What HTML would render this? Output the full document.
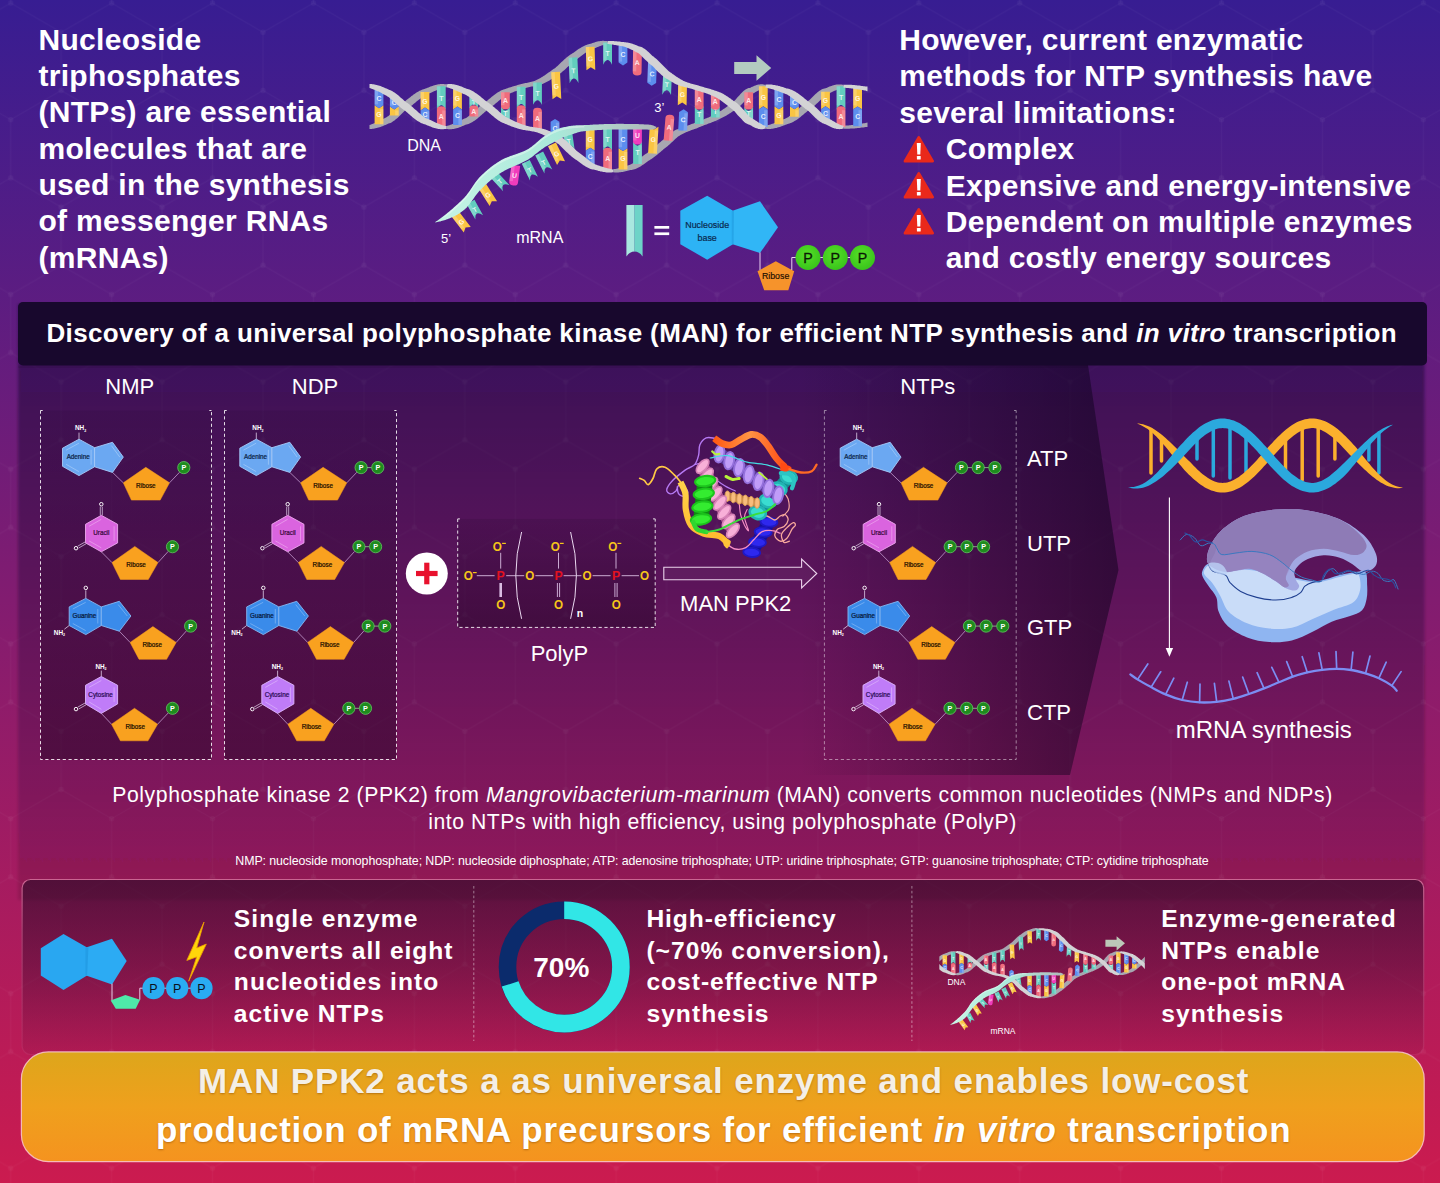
<!DOCTYPE html>
<html lang="en"><head><meta charset="utf-8"><title>MAN PPK2 graphical abstract</title>
<style>
html,body{margin:0;padding:0}
body{width:1440px;height:1183px;position:relative;overflow:hidden;
 font-family:"Liberation Sans",sans-serif;color:#fff;
 background:linear-gradient(180deg,#371D92 0%,#CB1B4F 100%);}
.t{position:absolute;white-space:nowrap;margin:0}
.b{font-weight:bold}
.c{text-align:center}
svg{position:absolute;left:0;top:0;overflow:visible}
svg text{font-family:"Liberation Sans",sans-serif}
</style></head><body>
<svg width="1440" height="1183" viewBox="0 0 1440 1183">
<defs><linearGradient id="gMint" x1="435" y1="0" x2="657" y2="0" gradientUnits="userSpaceOnUse"><stop offset="0" stop-color="#C6F4E6"/><stop offset=".55" stop-color="#A9E9D9"/><stop offset=".72" stop-color="#B2D8CE"/><stop offset="1" stop-color="#AEB8B8"/></linearGradient><clipPath id="cSmall"><rect x="414.3" y="20" width="400.6" height="230"/></clipPath><g id="dnaArt">
<polygon points="446.5,126.0 447.5,125.7 448.5,125.5 449.5,125.2 450.5,124.8 451.5,124.5 452.5,124.1 453.5,123.7 454.5,123.2 455.5,122.8 456.5,122.3 457.5,121.9 458.5,121.4 459.5,120.9 460.5,120.5 461.5,120.0 462.5,119.5 463.5,119.1 464.5,118.6 465.5,118.2 466.5,117.7 467.5,116.9 468.5,116.2 469.5,115.4 470.5,114.5 471.5,113.7 472.5,112.8 473.5,111.9 474.5,111.0 475.5,110.1 476.5,109.2 477.5,108.3 478.5,107.4 479.5,106.6 480.5,105.7 481.5,104.9 482.5,104.1 483.5,103.4 484.5,102.6 485.5,102.0 486.5,101.3 487.5,100.5 488.5,99.6 489.5,98.8 490.5,98.0 491.5,97.1 492.5,96.3 493.5,95.5 494.5,94.7 495.5,94.0 496.5,93.3 497.5,92.6 498.5,92.0 499.5,91.4 500.5,90.8 501.5,90.3 502.5,89.9 503.5,89.5 504.5,89.2 505.5,88.9 506.5,88.5 507.5,88.2 508.5,87.8 509.5,87.5 510.5,87.2 511.5,86.9 512.5,86.6 513.5,86.3 514.5,86.0 515.5,85.7 516.5,85.4 517.5,85.1 518.5,84.8 519.5,84.6 520.5,84.3 521.5,84.0 522.5,83.7 523.5,83.4 524.5,83.3 525.5,83.1 526.5,82.9 527.5,82.7 528.5,82.5 529.5,82.3 530.5,82.0 531.5,81.8 532.5,81.5 533.5,81.2 534.5,80.9 535.5,80.5 536.5,80.1 537.5,79.6 538.5,79.1 539.5,78.5 540.5,77.9 541.5,77.3 542.5,76.7 543.5,76.0 544.5,75.4 545.5,74.7 546.5,74.0 547.5,73.3 548.5,72.6 549.5,71.9 550.5,71.2 551.5,70.5 552.5,69.8 553.5,69.1 554.5,68.4 555.5,67.7 556.5,66.8 557.5,65.9 558.5,65.0 559.5,64.0 560.5,63.1 561.5,62.1 562.5,61.2 563.5,60.3 564.5,59.3 565.5,58.5 566.5,57.6 567.5,56.8 568.5,56.0 569.5,55.2 570.5,54.5 571.5,53.9 572.5,53.3 573.5,52.7 574.5,51.9 575.5,51.2 576.5,50.5 577.5,49.8 578.5,49.1 579.5,48.5 580.5,47.9 581.5,47.3 582.5,46.7 583.5,46.2 584.5,45.7 585.5,45.3 586.5,44.9 587.5,44.6 588.5,44.3 589.5,44.1 590.5,43.8 591.5,43.5 592.5,43.1 593.5,42.7 594.5,42.4 595.5,42.1 596.5,41.8 597.5,41.6 598.5,41.3 599.5,41.2 600.5,41.0 601.5,40.9 602.5,40.8 603.5,40.8 604.5,40.9 605.5,41.0 606.5,41.1 607.5,41.2 607.5,44.0 606.5,44.1 605.5,44.3 604.5,44.6 603.5,44.9 602.5,45.2 601.5,45.6 600.5,45.9 599.5,46.3 598.5,46.7 597.5,47.1 596.5,47.5 595.5,47.9 594.5,48.3 593.5,48.7 592.5,49.1 591.5,49.4 590.5,49.8 589.5,50.3 588.5,50.9 587.5,51.5 586.5,52.2 585.5,52.8 584.5,53.6 583.5,54.3 582.5,55.0 581.5,55.7 580.5,56.5 579.5,57.2 578.5,58.0 577.5,58.7 576.5,59.5 575.5,60.2 574.5,60.9 573.5,61.6 572.5,62.4 571.5,63.3 570.5,64.3 569.5,65.2 568.5,66.2 567.5,67.1 566.5,68.1 565.5,69.0 564.5,69.9 563.5,70.8 562.5,71.6 561.5,72.5 560.5,73.3 559.5,74.0 558.5,74.7 557.5,75.3 556.5,75.9 555.5,76.4 554.5,77.1 553.5,77.8 552.5,78.5 551.5,79.1 550.5,79.7 549.5,80.4 548.5,81.0 547.5,81.5 546.5,82.1 545.5,82.6 544.5,83.1 543.5,83.5 542.5,83.9 541.5,84.3 540.5,84.7 539.5,84.9 538.5,85.2 537.5,85.4 536.5,85.6 535.5,85.8 534.5,86.0 533.5,86.2 532.5,86.4 531.5,86.6 530.5,86.8 529.5,87.0 528.5,87.2 527.5,87.4 526.5,87.7 525.5,88.0 524.5,88.3 523.5,88.7 522.5,89.0 521.5,89.3 520.5,89.6 519.5,89.9 518.5,90.2 517.5,90.6 516.5,90.9 515.5,91.2 514.5,91.6 513.5,92.0 512.5,92.4 511.5,92.8 510.5,93.2 509.5,93.6 508.5,94.1 507.5,94.6 506.5,95.1 505.5,95.6 504.5,96.3 503.5,97.0 502.5,97.8 501.5,98.6 500.5,99.4 499.5,100.2 498.5,101.0 497.5,101.9 496.5,102.7 495.5,103.6 494.5,104.4 493.5,105.3 492.5,106.1 491.5,106.9 490.5,107.7 489.5,108.4 488.5,109.2 487.5,109.9 486.5,110.5 485.5,111.4 484.5,112.3 483.5,113.2 482.5,114.1 481.5,115.0 480.5,115.8 479.5,116.7 478.5,117.6 477.5,118.4 476.5,119.2 475.5,119.9 474.5,120.7 473.5,121.3 472.5,122.0 471.5,122.5 470.5,123.1 469.5,123.5 468.5,123.9 467.5,124.2 466.5,124.4 465.5,124.8 464.5,125.3 463.5,125.7 462.5,126.1 461.5,126.6 460.5,127.0 459.5,127.3 458.5,127.7 457.5,128.0 456.5,128.3 455.5,128.6 454.5,128.8 453.5,129.0 452.5,129.1 451.5,129.2 450.5,129.3 449.5,129.3 448.5,129.2 447.5,129.1 446.5,129.0" fill="#A7A7B1"/>
<polygon points="765.5,125.7 766.5,125.5 767.5,125.3 768.5,125.0 769.5,124.7 770.5,124.4 771.5,124.1 772.5,123.8 773.5,123.4 774.5,123.0 775.5,122.6 776.5,122.2 777.5,121.8 778.5,121.4 779.5,121.0 780.5,120.6 781.5,120.1 782.5,119.7 783.5,119.3 784.5,118.9 785.5,118.5 786.5,118.1 787.5,117.5 788.5,116.9 789.5,116.1 790.5,115.4 791.5,114.6 792.5,113.8 793.5,113.0 794.5,112.2 795.5,111.4 796.5,110.5 797.5,109.7 798.5,108.8 799.5,108.0 800.5,107.1 801.5,106.3 802.5,105.5 803.5,104.7 804.5,103.9 805.5,103.1 806.5,102.4 807.5,101.7 808.5,100.8 809.5,99.9 810.5,98.9 811.5,97.9 812.5,96.9 813.5,95.9 814.5,95.0 815.5,94.1 816.5,93.2 817.5,92.3 818.5,91.6 819.5,90.8 820.5,90.2 821.5,89.6 822.5,89.1 823.5,88.7 824.5,88.4 825.5,88.2 826.5,87.9 827.5,87.5 828.5,87.0 829.5,86.6 830.5,86.2 831.5,85.9 832.5,85.5 833.5,85.2 834.5,85.0 835.5,84.7 836.5,84.6 837.5,84.4 838.5,84.4 839.5,84.4 840.5,84.4 841.5,84.5 842.5,84.7 843.5,84.8 843.5,87.6 842.5,87.7 841.5,88.0 840.5,88.3 839.5,88.7 838.5,89.1 837.5,89.5 836.5,89.9 835.5,90.4 834.5,90.8 833.5,91.3 832.5,91.8 831.5,92.3 830.5,92.8 829.5,93.2 828.5,93.7 827.5,94.2 826.5,94.6 825.5,95.2 824.5,96.1 823.5,97.0 822.5,97.9 821.5,98.9 820.5,99.9 819.5,100.9 818.5,101.9 817.5,102.9 816.5,103.8 815.5,104.8 814.5,105.7 813.5,106.6 812.5,107.5 811.5,108.3 810.5,109.1 809.5,109.8 808.5,110.4 807.5,111.1 806.5,111.9 805.5,112.8 804.5,113.6 803.5,114.5 802.5,115.3 801.5,116.1 800.5,116.9 799.5,117.7 798.5,118.5 797.5,119.2 796.5,119.9 795.5,120.5 794.5,121.1 793.5,121.7 792.5,122.2 791.5,122.7 790.5,123.1 789.5,123.5 788.5,123.8 787.5,124.0 786.5,124.4 785.5,124.8 784.5,125.2 783.5,125.6 782.5,125.9 781.5,126.3 780.5,126.7 779.5,127.0 778.5,127.3 777.5,127.6 776.5,127.9 775.5,128.1 774.5,128.3 773.5,128.5 772.5,128.7 771.5,128.8 770.5,128.9 769.5,128.9 768.5,128.9 767.5,128.9 766.5,128.8 765.5,128.7" fill="#A7A7B1"/>
<polygon points="369.5,125.0 370.5,124.7 371.5,124.3 372.5,123.9 373.5,123.6 374.5,123.2 375.5,122.8 376.5,122.3 377.5,121.9 378.5,121.4 379.5,120.9 380.5,120.4 381.5,119.9 382.5,119.4 383.5,118.8 384.5,118.3 385.5,117.7 386.5,117.2 387.5,116.6 388.5,115.9 389.5,115.0 390.5,114.0 391.5,113.1 392.5,112.1 393.5,111.1 394.5,110.1 395.5,109.1 396.5,108.1 397.5,107.2 398.5,106.3 399.5,105.4 400.5,104.5 401.5,103.7 402.5,102.9 403.5,102.3 404.5,101.6 405.5,100.9 406.5,100.1 407.5,99.3 408.5,98.5 409.5,97.7 410.5,96.9 411.5,96.1 412.5,95.4 413.5,94.6 414.5,93.9 415.5,93.2 416.5,92.6 417.5,92.0 418.5,91.4 419.5,90.8 420.5,90.4 421.5,89.9 422.5,89.5 423.5,89.2 424.5,88.9 425.5,88.6 426.5,88.2 427.5,87.8 428.5,87.4 429.5,87.0 430.5,86.6 431.5,86.2 432.5,85.9 433.5,85.5 434.5,85.2 435.5,85.0 436.5,84.7 437.5,84.5 438.5,84.3 439.5,84.2 440.5,84.1 441.5,84.1 442.5,84.0 443.5,84.1 444.5,84.2 445.5,84.3 446.5,84.3 446.5,87.3 445.5,87.3 444.5,87.5 443.5,87.8 442.5,88.1 441.5,88.4 440.5,88.7 439.5,89.1 438.5,89.5 437.5,89.9 436.5,90.3 435.5,90.7 434.5,91.1 433.5,91.6 432.5,92.0 431.5,92.4 430.5,92.9 429.5,93.3 428.5,93.7 427.5,94.2 426.5,94.6 425.5,95.0 424.5,95.6 423.5,96.3 422.5,97.0 421.5,97.7 420.5,98.5 419.5,99.2 418.5,100.0 417.5,100.8 416.5,101.6 415.5,102.4 414.5,103.3 413.5,104.1 412.5,104.9 411.5,105.7 410.5,106.5 409.5,107.3 408.5,108.1 407.5,108.8 406.5,109.6 405.5,110.3 404.5,111.1 403.5,112.1 402.5,113.1 401.5,114.1 400.5,115.1 399.5,116.1 398.5,117.0 397.5,117.9 396.5,118.8 395.5,119.6 394.5,120.4 393.5,121.1 392.5,121.8 391.5,122.4 390.5,122.9 389.5,123.3 388.5,123.6 387.5,123.9 386.5,124.4 385.5,124.9 384.5,125.3 383.5,125.7 382.5,126.2 381.5,126.5 380.5,126.9 379.5,127.2 378.5,127.5 377.5,127.8 376.5,128.1 375.5,128.3 374.5,128.5 373.5,128.7 372.5,128.8 371.5,128.9 370.5,128.9 369.5,128.9" fill="#A7A7B1"/>
<polygon points="613.5,169.3 614.5,169.1 615.5,168.9 616.5,168.7 617.5,168.5 618.5,168.2 619.5,168.0 620.5,167.7 621.5,167.4 622.5,167.1 623.5,166.8 624.5,166.5 625.5,166.2 626.5,165.9 627.5,165.6 628.5,165.3 629.5,165.0 630.5,164.6 631.5,164.0 632.5,163.4 633.5,162.8 634.5,162.1 635.5,161.4 636.5,160.7 637.5,160.0 638.5,159.3 639.5,158.5 640.5,157.8 641.5,157.0 642.5,156.3 643.5,155.6 644.5,154.8 645.5,154.1 646.5,153.4 647.5,152.7 648.5,152.1 649.5,151.3 650.5,150.5 651.5,149.6 652.5,148.7 653.5,147.9 654.5,147.0 655.5,146.1 656.5,145.3 657.5,144.4 658.5,143.5 659.5,142.7 660.5,141.9 661.5,141.1 662.5,140.3 663.5,139.5 664.5,138.7 665.5,137.7 666.5,136.8 667.5,135.9 668.5,135.0 669.5,134.1 670.5,133.3 671.5,132.5 672.5,131.8 673.5,131.2 674.5,130.6 675.5,130.1 676.5,129.6 677.5,129.3 678.5,128.9 679.5,128.5 680.5,128.1 681.5,127.7 682.5,127.3 683.5,127.0 684.5,126.6 685.5,126.3 686.5,125.9 687.5,125.6 688.5,125.2 689.5,124.9 690.5,124.5 691.5,124.1 692.5,123.7 693.5,123.4 694.5,122.9 695.5,122.5 696.5,122.1 697.5,121.6 698.5,121.3 699.5,120.9 700.5,120.5 701.5,120.2 702.5,119.8 703.5,119.4 704.5,119.0 705.5,118.6 706.5,118.2 707.5,117.8 708.5,117.4 709.5,116.9 710.5,116.5 711.5,116.0 712.5,115.5 713.5,115.0 714.5,114.5 715.5,114.0 716.5,113.4 717.5,112.8 718.5,112.2 719.5,111.6 720.5,111.0 721.5,110.4 722.5,109.7 723.5,109.1 724.5,108.4 725.5,107.7 726.5,107.0 727.5,106.3 728.5,105.6 729.5,104.9 730.5,104.1 731.5,103.4 732.5,102.6 733.5,101.8 734.5,100.8 735.5,99.7 736.5,98.5 737.5,97.3 738.5,96.2 739.5,95.2 740.5,94.1 741.5,93.1 742.5,92.0 743.5,91.0 744.5,90.2 745.5,89.5 746.5,88.9 747.5,88.4 748.5,88.1 749.5,87.9 750.5,87.7 751.5,87.1 752.5,86.7 753.5,86.2 754.5,85.8 755.5,85.4 756.5,85.1 757.5,84.8 758.5,84.5 759.5,84.4 760.5,84.3 761.5,84.2 762.5,84.3 763.5,84.4 764.5,84.7 765.5,84.7 765.5,87.7 764.5,87.8 763.5,88.1 762.5,88.5 761.5,89.0 760.5,89.5 759.5,90.0 758.5,90.5 757.5,91.0 756.5,91.6 755.5,92.1 754.5,92.7 753.5,93.3 752.5,93.8 751.5,94.3 750.5,94.8 749.5,95.6 748.5,96.7 747.5,97.8 746.5,99.0 745.5,100.1 744.5,101.3 743.5,102.5 742.5,103.5 741.5,104.6 740.5,105.6 739.5,106.7 738.5,107.7 737.5,108.6 736.5,109.3 735.5,109.9 734.5,110.4 733.5,110.9 732.5,111.6 731.5,112.3 730.5,112.9 729.5,113.5 728.5,114.2 727.5,114.8 726.5,115.4 725.5,116.0 724.5,116.5 723.5,117.1 722.5,117.6 721.5,118.1 720.5,118.6 719.5,119.1 718.5,119.6 717.5,120.1 716.5,120.5 715.5,120.9 714.5,121.3 713.5,121.7 712.5,122.1 711.5,122.5 710.5,122.9 709.5,123.3 708.5,123.6 707.5,124.0 706.5,124.4 705.5,124.7 704.5,125.1 703.5,125.5 702.5,125.9 701.5,126.3 700.5,126.7 699.5,127.1 698.5,127.5 697.5,128.0 696.5,128.4 695.5,128.7 694.5,129.1 693.5,129.4 692.5,129.8 691.5,130.1 690.5,130.5 689.5,130.9 688.5,131.3 687.5,131.7 686.5,132.1 685.5,132.5 684.5,133.0 683.5,133.5 682.5,134.0 681.5,134.5 680.5,135.1 679.5,135.7 678.5,136.3 677.5,137.1 676.5,137.9 675.5,138.8 674.5,139.8 673.5,140.7 672.5,141.7 671.5,142.6 670.5,143.5 669.5,144.4 668.5,145.3 667.5,146.2 666.5,147.0 665.5,147.8 664.5,148.5 663.5,149.3 662.5,150.2 661.5,151.0 660.5,151.9 659.5,152.7 658.5,153.6 657.5,154.4 656.5,155.2 655.5,156.0 654.5,156.8 653.5,157.6 652.5,158.3 651.5,159.0 650.5,159.6 649.5,160.2 648.5,160.8 647.5,161.6 646.5,162.3 645.5,163.0 644.5,163.8 643.5,164.4 642.5,165.1 641.5,165.8 640.5,166.4 639.5,167.0 638.5,167.5 637.5,168.0 636.5,168.5 635.5,168.9 634.5,169.3 633.5,169.6 632.5,169.8 631.5,170.0 630.5,170.1 629.5,170.3 628.5,170.6 627.5,170.8 626.5,171.1 625.5,171.3 624.5,171.5 623.5,171.7 622.5,171.9 621.5,172.1 620.5,172.2 619.5,172.3 618.5,172.4 617.5,172.4 616.5,172.5 615.5,172.4 614.5,172.4 613.5,172.3" fill="#A7A7B1"/>
<polygon points="843.5,125.8 844.5,125.7 845.5,125.6 846.5,125.6 847.5,125.5 848.5,125.4 849.5,125.3 850.5,125.2 851.5,125.0 852.5,124.9 853.5,124.8 854.5,124.7 855.5,124.5 856.5,124.4 857.5,124.2 858.5,124.1 859.5,123.9 860.5,123.8 861.5,123.6 862.5,123.5 863.5,123.3 864.5,123.2 865.5,123.1 866.5,122.7 867.5,122.4 867.5,127.1 866.5,127.1 865.5,127.1 864.5,127.2 863.5,127.4 862.5,127.5 861.5,127.6 860.5,127.8 859.5,127.9 858.5,128.0 857.5,128.1 856.5,128.2 855.5,128.3 854.5,128.4 853.5,128.5 852.5,128.5 851.5,128.6 850.5,128.6 849.5,128.7 848.5,128.7 847.5,128.7 846.5,128.7 845.5,128.7 844.5,128.7 843.5,128.6" fill="#A7A7B1"/>
<g transform="translate(379.0 124.3) rotate(-180.0)"><path d="M-4.4 0H4.4V19.01L0 16.13L-4.4 19.01Z" fill="#FAC543"/><rect x="-4.4" y="0" width="3.5" height="15.2" fill="#fff" fill-opacity=".2"/><text x="0" y="12.1" font-size="6.8" font-weight="bold" text-anchor="middle" fill="#fff" fill-opacity=".85" transform="rotate(180 0 9.7)">G</text></g>
<g transform="translate(379.0 88.8) rotate(-0.0)"><path d="M-4.4 0H4.4V16.51L0 19.39L-4.4 16.51Z" fill="#5C8EEE"/><rect x="-4.4" y="0" width="3.5" height="15.5" fill="#fff" fill-opacity=".2"/><text x="0" y="12.3" font-size="6.8" font-weight="bold" text-anchor="middle" fill="#fff" fill-opacity=".85" transform="rotate(0 0 9.9)">C</text></g>
<g transform="translate(394.3 115.4) rotate(-180.0)"><path d="M-4.4 0H4.4V8.88L0 6.00L-4.4 8.88Z" fill="#FAC543"/><rect x="-4.4" y="0" width="3.5" height="5.0" fill="#fff" fill-opacity=".2"/></g>
<g transform="translate(394.3 97.2) rotate(-0.0)"><path d="M-4.4 0H4.4V9.34L0 12.22L-4.4 9.34Z" fill="#5C8EEE"/><rect x="-4.4" y="0" width="3.5" height="8.4" fill="#fff" fill-opacity=".2"/><text x="0" y="8.3" font-size="6.8" font-weight="bold" text-anchor="middle" fill="#fff" fill-opacity=".85" transform="rotate(0 0 5.9)">C</text></g>
<g transform="translate(425.0 92.0) rotate(-0.0)"><path d="M-4.4 0H4.4V18.43L0 15.55L-4.4 18.43Z" fill="#FAC543"/><rect x="-4.4" y="0" width="3.5" height="14.6" fill="#fff" fill-opacity=".2"/><text x="0" y="11.7" font-size="6.8" font-weight="bold" text-anchor="middle" fill="#fff" fill-opacity=".85" transform="rotate(0 0 9.3)">G</text></g>
<g transform="translate(425.0 121.0) rotate(-180.0)"><path d="M-4.4 0H4.4V10.54L0 13.42L-4.4 10.54Z" fill="#5C8EEE"/><rect x="-4.4" y="0" width="3.5" height="9.6" fill="#fff" fill-opacity=".2"/><text x="0" y="9.0" font-size="6.8" font-weight="bold" text-anchor="middle" fill="#fff" fill-opacity=".85" transform="rotate(180 0 6.6)">C</text></g>
<g transform="translate(441.3 86.3) rotate(-0.0)"><path d="M-4.4 0H4.4V23.42Q2.2 18.86 0 18.86Q-2.2 18.86 -4.4 23.42Z" fill="#62CDBE"/><rect x="-4.4" y="0" width="3.5" height="19.3" fill="#fff" fill-opacity=".2"/><text x="0" y="14.4" font-size="6.8" font-weight="bold" text-anchor="middle" fill="#fff" fill-opacity=".85" transform="rotate(0 0 12.0)">T</text></g>
<g transform="translate(441.3 127.0) rotate(-180.0)"><path d="M-4.4 0H4.4V17.34Q4.4 20.70 0 20.70Q-4.4 20.70 -4.4 17.34Z" fill="#F06C7C"/><rect x="-4.4" y="0" width="3.5" height="16.6" fill="#fff" fill-opacity=".2"/><text x="0" y="12.9" font-size="6.8" font-weight="bold" text-anchor="middle" fill="#fff" fill-opacity=".85" transform="rotate(180 0 10.5)">A</text></g>
<g transform="translate(457.5 88.2) rotate(-0.0)"><path d="M-4.4 0H4.4V21.20L0 18.32L-4.4 21.20Z" fill="#FAC543"/><rect x="-4.4" y="0" width="3.5" height="17.4" fill="#fff" fill-opacity=".2"/><text x="0" y="13.3" font-size="6.8" font-weight="bold" text-anchor="middle" fill="#fff" fill-opacity=".85" transform="rotate(0 0 10.9)">G</text></g>
<g transform="translate(457.5 124.9) rotate(-180.0)"><path d="M-4.4 0H4.4V15.50L0 18.38L-4.4 15.50Z" fill="#5C8EEE"/><rect x="-4.4" y="0" width="3.5" height="14.5" fill="#fff" fill-opacity=".2"/><text x="0" y="11.7" font-size="6.8" font-weight="bold" text-anchor="middle" fill="#fff" fill-opacity=".85" transform="rotate(180 0 9.3)">C</text></g>
<g transform="translate(473.8 96.3) rotate(-0.0)"><path d="M-4.4 0H4.4V12.42Q2.2 7.86 0 7.86Q-2.2 7.86 -4.4 12.42Z" fill="#62CDBE"/><rect x="-4.4" y="0" width="3.5" height="8.3" fill="#fff" fill-opacity=".2"/><text x="0" y="8.3" font-size="6.8" font-weight="bold" text-anchor="middle" fill="#fff" fill-opacity=".85" transform="rotate(0 0 5.9)">T</text></g>
<g transform="translate(473.8 116.4) rotate(-180.0)"><path d="M-4.4 0H4.4V7.70Q4.4 11.06 0 11.06Q-4.4 11.06 -4.4 7.70Z" fill="#F06C7C"/><rect x="-4.4" y="0" width="3.5" height="7.0" fill="#fff" fill-opacity=".2"/><text x="0" y="7.6" font-size="6.8" font-weight="bold" text-anchor="middle" fill="#fff" fill-opacity=".85" transform="rotate(180 0 5.2)">A</text></g>
<g transform="translate(505.4 120.2) rotate(-180.0)"><path d="M-4.4 0H4.4V14.29Q2.2 9.73 0 9.73Q-2.2 9.73 -4.4 14.29Z" fill="#62CDBE"/><rect x="-4.4" y="0" width="3.5" height="10.2" fill="#fff" fill-opacity=".2"/><text x="0" y="9.3" font-size="6.8" font-weight="bold" text-anchor="middle" fill="#fff" fill-opacity=".85" transform="rotate(180 0 6.9)">T</text></g>
<g transform="translate(505.4 92.3) rotate(-0.0)"><path d="M-4.4 0H4.4V13.61Q4.4 16.97 0 16.97Q-4.4 16.97 -4.4 13.61Z" fill="#F06C7C"/><rect x="-4.4" y="0" width="3.5" height="12.9" fill="#fff" fill-opacity=".2"/><text x="0" y="10.8" font-size="6.8" font-weight="bold" text-anchor="middle" fill="#fff" fill-opacity=".85" transform="rotate(0 0 8.4)">A</text></g>
<g transform="translate(521.2 86.7) rotate(-0.0)"><path d="M-4.4 0H4.4V21.95Q2.2 17.39 0 17.39Q-2.2 17.39 -4.4 21.95Z" fill="#62CDBE"/><rect x="-4.4" y="0" width="3.5" height="17.9" fill="#fff" fill-opacity=".2"/><text x="0" y="13.5" font-size="6.8" font-weight="bold" text-anchor="middle" fill="#fff" fill-opacity=".85" transform="rotate(0 0 11.1)">T</text></g>
<g transform="translate(521.2 126.7) rotate(-180.0)"><path d="M-4.4 0H4.4V17.99Q4.4 21.35 0 21.35Q-4.4 21.35 -4.4 17.99Z" fill="#F06C7C"/><rect x="-4.4" y="0" width="3.5" height="17.3" fill="#fff" fill-opacity=".2"/><text x="0" y="13.2" font-size="6.8" font-weight="bold" text-anchor="middle" fill="#fff" fill-opacity=".85" transform="rotate(180 0 10.8)">A</text></g>
<g transform="translate(699.2 124.1) rotate(-180.0)"><path d="M-4.4 0H4.4V17.99Q2.2 13.43 0 13.43Q-2.2 13.43 -4.4 17.99Z" fill="#62CDBE"/><rect x="-4.4" y="0" width="3.5" height="13.9" fill="#fff" fill-opacity=".2"/><text x="0" y="11.4" font-size="6.8" font-weight="bold" text-anchor="middle" fill="#fff" fill-opacity=".85" transform="rotate(180 0 9.0)">T</text></g>
<g transform="translate(699.2 88.5) rotate(-0.0)"><path d="M-4.4 0H4.4V17.64Q4.4 21.00 0 21.00Q-4.4 21.00 -4.4 17.64Z" fill="#F06C7C"/><rect x="-4.4" y="0" width="3.5" height="16.9" fill="#fff" fill-opacity=".2"/><text x="0" y="13.0" font-size="6.8" font-weight="bold" text-anchor="middle" fill="#fff" fill-opacity=".85" transform="rotate(0 0 10.6)">A</text></g>
<g transform="translate(715.3 117.5) rotate(-180.0)"><path d="M-4.4 0H4.4V11.42Q2.2 6.86 0 6.86Q-2.2 6.86 -4.4 11.42Z" fill="#62CDBE"/><rect x="-4.4" y="0" width="3.5" height="7.3" fill="#fff" fill-opacity=".2"/><text x="0" y="7.8" font-size="6.8" font-weight="bold" text-anchor="middle" fill="#fff" fill-opacity=".85" transform="rotate(180 0 5.4)">T</text></g>
<g transform="translate(715.3 93.9) rotate(-0.0)"><path d="M-4.4 0H4.4V12.23Q4.4 15.59 0 15.59Q-4.4 15.59 -4.4 12.23Z" fill="#F06C7C"/><rect x="-4.4" y="0" width="3.5" height="11.5" fill="#fff" fill-opacity=".2"/><text x="0" y="10.1" font-size="6.8" font-weight="bold" text-anchor="middle" fill="#fff" fill-opacity=".85" transform="rotate(0 0 7.7)">A</text></g>
<g transform="translate(748.7 120.2) rotate(-180.0)"><path d="M-4.4 0H4.4V14.05Q2.2 9.49 0 9.49Q-2.2 9.49 -4.4 14.05Z" fill="#62CDBE"/><rect x="-4.4" y="0" width="3.5" height="10.0" fill="#fff" fill-opacity=".2"/><text x="0" y="9.2" font-size="6.8" font-weight="bold" text-anchor="middle" fill="#fff" fill-opacity=".85" transform="rotate(180 0 6.8)">T</text></g>
<g transform="translate(748.7 92.3) rotate(-0.0)"><path d="M-4.4 0H4.4V13.86Q4.4 17.22 0 17.22Q-4.4 17.22 -4.4 13.86Z" fill="#F06C7C"/><rect x="-4.4" y="0" width="3.5" height="13.1" fill="#fff" fill-opacity=".2"/><text x="0" y="10.9" font-size="6.8" font-weight="bold" text-anchor="middle" fill="#fff" fill-opacity=".85" transform="rotate(0 0 8.5)">A</text></g>
<g transform="translate(763.3 86.3) rotate(-0.0)"><path d="M-4.4 0H4.4V22.94L0 20.06L-4.4 22.94Z" fill="#FAC543"/><rect x="-4.4" y="0" width="3.5" height="19.1" fill="#fff" fill-opacity=".2"/><text x="0" y="14.2" font-size="6.8" font-weight="bold" text-anchor="middle" fill="#fff" fill-opacity=".85" transform="rotate(0 0 11.8)">G</text></g>
<g transform="translate(763.3 127.1) rotate(-180.0)"><path d="M-4.4 0H4.4V17.84L0 20.72L-4.4 17.84Z" fill="#5C8EEE"/><rect x="-4.4" y="0" width="3.5" height="16.9" fill="#fff" fill-opacity=".2"/><text x="0" y="13.0" font-size="6.8" font-weight="bold" text-anchor="middle" fill="#fff" fill-opacity=".85" transform="rotate(180 0 10.6)">C</text></g>
<g transform="translate(778.9 124.2) rotate(-180.0)"><path d="M-4.4 0H4.4V17.85L0 14.97L-4.4 17.85Z" fill="#FAC543"/><rect x="-4.4" y="0" width="3.5" height="14.0" fill="#fff" fill-opacity=".2"/><text x="0" y="11.4" font-size="6.8" font-weight="bold" text-anchor="middle" fill="#fff" fill-opacity=".85" transform="rotate(180 0 9.0)">G</text></g>
<g transform="translate(778.9 88.7) rotate(-0.0)"><path d="M-4.4 0H4.4V17.65L0 20.53L-4.4 17.65Z" fill="#5C8EEE"/><rect x="-4.4" y="0" width="3.5" height="16.7" fill="#fff" fill-opacity=".2"/><text x="0" y="12.9" font-size="6.8" font-weight="bold" text-anchor="middle" fill="#fff" fill-opacity=".85" transform="rotate(0 0 10.5)">C</text></g>
<g transform="translate(794.4 116.7) rotate(-180.0)"><path d="M-4.4 0H4.4V10.39L0 7.51L-4.4 10.39Z" fill="#FAC543"/><rect x="-4.4" y="0" width="3.5" height="6.5" fill="#fff" fill-opacity=".2"/></g>
<g transform="translate(794.4 95.5) rotate(-0.0)"><path d="M-4.4 0H4.4V10.89L0 13.77L-4.4 10.89Z" fill="#5C8EEE"/><rect x="-4.4" y="0" width="3.5" height="9.9" fill="#fff" fill-opacity=".2"/><text x="0" y="9.2" font-size="6.8" font-weight="bold" text-anchor="middle" fill="#fff" fill-opacity=".85" transform="rotate(0 0 6.8)">C</text></g>
<g transform="translate(825.5 91.7) rotate(-0.0)"><path d="M-4.4 0H4.4V17.51L0 14.63L-4.4 17.51Z" fill="#FAC543"/><rect x="-4.4" y="0" width="3.5" height="13.7" fill="#fff" fill-opacity=".2"/><text x="0" y="11.2" font-size="6.8" font-weight="bold" text-anchor="middle" fill="#fff" fill-opacity=".85" transform="rotate(0 0 8.8)">G</text></g>
<g transform="translate(825.5 120.5) rotate(-180.0)"><path d="M-4.4 0H4.4V11.29L0 14.17L-4.4 11.29Z" fill="#5C8EEE"/><rect x="-4.4" y="0" width="3.5" height="10.3" fill="#fff" fill-opacity=".2"/><text x="0" y="9.4" font-size="6.8" font-weight="bold" text-anchor="middle" fill="#fff" fill-opacity=".85" transform="rotate(180 0 7.0)">C</text></g>
<g transform="translate(841.0 86.3) rotate(-0.0)"><path d="M-4.4 0H4.4V23.17Q2.2 18.61 0 18.61Q-2.2 18.61 -4.4 23.17Z" fill="#62CDBE"/><rect x="-4.4" y="0" width="3.5" height="19.1" fill="#fff" fill-opacity=".2"/><text x="0" y="14.2" font-size="6.8" font-weight="bold" text-anchor="middle" fill="#fff" fill-opacity=".85" transform="rotate(0 0 11.8)">T</text></g>
<g transform="translate(841.0 127.1) rotate(-180.0)"><path d="M-4.4 0H4.4V17.58Q4.4 20.94 0 20.94Q-4.4 20.94 -4.4 17.58Z" fill="#F06C7C"/><rect x="-4.4" y="0" width="3.5" height="16.9" fill="#fff" fill-opacity=".2"/><text x="0" y="13.0" font-size="6.8" font-weight="bold" text-anchor="middle" fill="#fff" fill-opacity=".85" transform="rotate(180 0 10.6)">A</text></g>
<g transform="translate(857.6 87.4) rotate(-0.0)"><path d="M-4.4 0H4.4V21.88L0 19.00L-4.4 21.88Z" fill="#FAC543"/><rect x="-4.4" y="0" width="3.5" height="18.0" fill="#fff" fill-opacity=".2"/><text x="0" y="13.6" font-size="6.8" font-weight="bold" text-anchor="middle" fill="#fff" fill-opacity=".85" transform="rotate(0 0 11.2)">G</text></g>
<g transform="translate(857.6 126.2) rotate(-180.0)"><path d="M-4.4 0H4.4V16.91L0 19.79L-4.4 16.91Z" fill="#5C8EEE"/><rect x="-4.4" y="0" width="3.5" height="16.0" fill="#fff" fill-opacity=".2"/><text x="0" y="12.5" font-size="6.8" font-weight="bold" text-anchor="middle" fill="#fff" fill-opacity=".85" transform="rotate(180 0 10.1)">C</text></g>
<g transform="translate(537.5 82.5) rotate(-0.0)"><path d="M-4.4 0H4.4V22.28Q2.2 17.72 0 17.72Q-2.2 17.72 -4.4 22.28Z" fill="#62CDBE"/><rect x="-4.4" y="0" width="3.5" height="18.2" fill="#fff" fill-opacity=".2"/><text x="0" y="13.7" font-size="6.8" font-weight="bold" text-anchor="middle" fill="#fff" fill-opacity=".85" transform="rotate(0 0 11.3)">T</text></g>
<g transform="translate(537.5 130.2) rotate(-180.0)"><path d="M-4.4 0H4.4V19.00Q4.4 22.36 0 22.36Q-4.4 22.36 -4.4 19.00Z" fill="#F06C7C"/><rect x="-4.4" y="0" width="3.5" height="18.3" fill="#fff" fill-opacity=".2"/><text x="0" y="13.8" font-size="6.8" font-weight="bold" text-anchor="middle" fill="#fff" fill-opacity=".85" transform="rotate(180 0 11.4)">A</text></g>
<g transform="translate(555.6 72.0) rotate(-2.7)"><path d="M-4.4 0H4.4V27.17L0 24.29L-4.4 27.17Z" fill="#FAC543"/><rect x="-4.4" y="0" width="3.5" height="23.3" fill="#fff" fill-opacity=".2"/><text x="0" y="16.6" font-size="6.8" font-weight="bold" text-anchor="middle" fill="#fff" fill-opacity=".85" transform="rotate(0 0 14.2)">G</text></g>
<g transform="translate(573.0 57.5) rotate(-2.4)"><path d="M-4.4 0H4.4V25.70Q2.2 21.14 0 21.14Q-2.2 21.14 -4.4 25.70Z" fill="#62CDBE"/><rect x="-4.4" y="0" width="3.5" height="21.6" fill="#fff" fill-opacity=".2"/><text x="0" y="15.6" font-size="6.8" font-weight="bold" text-anchor="middle" fill="#fff" fill-opacity=".85" transform="rotate(0 0 13.2)">T</text></g>
<g transform="translate(590.2 46.9) rotate(-1.6)"><path d="M-4.4 0H4.4V23.32L0 20.44L-4.4 23.32Z" fill="#FAC543"/><rect x="-4.4" y="0" width="3.5" height="19.5" fill="#fff" fill-opacity=".2"/><text x="0" y="14.4" font-size="6.8" font-weight="bold" text-anchor="middle" fill="#fff" fill-opacity=".85" transform="rotate(0 0 12.0)">G</text></g>
<g transform="translate(607.6 42.6) rotate(-0.0)"><path d="M-4.4 0H4.4V22.08Q2.2 17.52 0 17.52Q-2.2 17.52 -4.4 22.08Z" fill="#62CDBE"/><rect x="-4.4" y="0" width="3.5" height="18.0" fill="#fff" fill-opacity=".2"/><text x="0" y="13.6" font-size="6.8" font-weight="bold" text-anchor="middle" fill="#fff" fill-opacity=".85" transform="rotate(0 0 11.2)">T</text></g>
<g transform="translate(623.0 44.2) rotate(-0.0)"><path d="M-4.4 0H4.4V18.36L0 21.24L-4.4 18.36Z" fill="#5C8EEE"/><rect x="-4.4" y="0" width="3.5" height="17.4" fill="#fff" fill-opacity=".2"/><text x="0" y="13.3" font-size="6.8" font-weight="bold" text-anchor="middle" fill="#fff" fill-opacity=".85" transform="rotate(0 0 10.9)">C</text></g>
<g transform="translate(637.5 49.3) rotate(0.9)"><path d="M-4.4 0H4.4V22.77Q4.4 26.13 0 26.13Q-4.4 26.13 -4.4 22.77Z" fill="#F06C7C"/><rect x="-4.4" y="0" width="3.5" height="22.1" fill="#fff" fill-opacity=".2"/><text x="0" y="15.8" font-size="6.8" font-weight="bold" text-anchor="middle" fill="#fff" fill-opacity=".85" transform="rotate(0 0 13.4)">A</text></g>
<g transform="translate(652.5 61.0) rotate(2.0)"><path d="M-4.4 0H4.4V21.97L0 24.85L-4.4 21.97Z" fill="#5C8EEE"/><rect x="-4.4" y="0" width="3.5" height="21.0" fill="#fff" fill-opacity=".2"/><text x="0" y="15.3" font-size="6.8" font-weight="bold" text-anchor="middle" fill="#fff" fill-opacity=".85" transform="rotate(0 0 12.9)">C</text></g>
<g transform="translate(667.5 74.6) rotate(2.5)"><path d="M-4.4 0H4.4V20.26Q2.2 15.70 0 15.70Q-2.2 15.70 -4.4 20.26Z" fill="#62CDBE"/><rect x="-4.4" y="0" width="3.5" height="16.2" fill="#fff" fill-opacity=".2"/><text x="0" y="12.6" font-size="6.8" font-weight="bold" text-anchor="middle" fill="#fff" fill-opacity=".85" transform="rotate(0 0 10.2)">T</text></g>
<g transform="translate(682.6 83.5) rotate(1.1)"><path d="M-4.4 0H4.4V21.84L0 18.96L-4.4 21.84Z" fill="#FAC543"/><rect x="-4.4" y="0" width="3.5" height="18.0" fill="#fff" fill-opacity=".2"/><text x="0" y="13.6" font-size="6.8" font-weight="bold" text-anchor="middle" fill="#fff" fill-opacity=".85" transform="rotate(0 0 11.2)">G</text></g>
<g transform="translate(555.0 137.8) rotate(-180.0)"><path d="M-4.4 0H4.4V16.04L0 18.92L-4.4 16.04Z" fill="#5C8EEE"/><rect x="-4.4" y="0" width="3.5" height="15.1" fill="#fff" fill-opacity=".2"/><text x="0" y="12.0" font-size="6.8" font-weight="bold" text-anchor="middle" fill="#fff" fill-opacity=".85" transform="rotate(180 0 9.6)">C</text></g>
<g transform="translate(652.5 153.5) rotate(-176.6)"><path d="M-4.4 0H4.4V26.99L0 24.11L-4.4 26.99Z" fill="#FAC543"/><rect x="-4.4" y="0" width="3.5" height="23.2" fill="#fff" fill-opacity=".2"/><text x="0" y="16.5" font-size="6.8" font-weight="bold" text-anchor="middle" fill="#fff" fill-opacity=".85" transform="rotate(180 0 14.1)">G</text></g>
<g transform="translate(668.0 140.6) rotate(-175.3)"><path d="M-4.4 0H4.4V22.51Q4.4 25.87 0 25.87Q-4.4 25.87 -4.4 22.51Z" fill="#F06C7C"/><rect x="-4.4" y="0" width="3.5" height="21.8" fill="#fff" fill-opacity=".2"/><text x="0" y="15.7" font-size="6.8" font-weight="bold" text-anchor="middle" fill="#fff" fill-opacity=".85" transform="rotate(180 0 13.3)">A</text></g>
<g transform="translate(682.6 130.6) rotate(-177.1)"><path d="M-4.4 0H4.4V18.50L0 21.38L-4.4 18.50Z" fill="#5C8EEE"/><rect x="-4.4" y="0" width="3.5" height="17.5" fill="#fff" fill-opacity=".2"/><text x="0" y="13.4" font-size="6.8" font-weight="bold" text-anchor="middle" fill="#fff" fill-opacity=".85" transform="rotate(180 0 11.0)">C</text></g>
<g transform="translate(590.2 127.7) rotate(-0.0)"><path d="M-4.4 0H4.4V22.92L0 20.04L-4.4 22.92Z" fill="#FAC543"/><rect x="-4.4" y="0" width="3.5" height="19.1" fill="#fff" fill-opacity=".2"/><text x="0" y="14.2" font-size="6.8" font-weight="bold" text-anchor="middle" fill="#fff" fill-opacity=".85" transform="rotate(0 0 11.8)">G</text></g>
<g transform="translate(590.2 165.0) rotate(-180.0)"><path d="M-4.4 0H4.4V14.38L0 17.26L-4.4 14.38Z" fill="#5C8EEE"/><rect x="-4.4" y="0" width="3.5" height="13.4" fill="#fff" fill-opacity=".2"/><text x="0" y="11.1" font-size="6.8" font-weight="bold" text-anchor="middle" fill="#fff" fill-opacity=".85" transform="rotate(180 0 8.7)">C</text></g>
<g transform="translate(607.6 126.8) rotate(-0.0)"><path d="M-4.4 0H4.4V24.27Q2.2 19.71 0 19.71Q-2.2 19.71 -4.4 24.27Z" fill="#62CDBE"/><rect x="-4.4" y="0" width="3.5" height="20.2" fill="#fff" fill-opacity=".2"/><text x="0" y="14.8" font-size="6.8" font-weight="bold" text-anchor="middle" fill="#fff" fill-opacity=".85" transform="rotate(0 0 12.4)">T</text></g>
<g transform="translate(607.6 170.4) rotate(-180.0)"><path d="M-4.4 0H4.4V19.30Q4.4 22.66 0 22.66Q-4.4 22.66 -4.4 19.30Z" fill="#F06C7C"/><rect x="-4.4" y="0" width="3.5" height="18.6" fill="#fff" fill-opacity=".2"/><text x="0" y="13.9" font-size="6.8" font-weight="bold" text-anchor="middle" fill="#fff" fill-opacity=".85" transform="rotate(180 0 11.5)">A</text></g>
<g transform="translate(623.0 169.4) rotate(-180.0)"><path d="M-4.4 0H4.4V21.24L0 18.36L-4.4 21.24Z" fill="#FAC543"/><rect x="-4.4" y="0" width="3.5" height="17.4" fill="#fff" fill-opacity=".2"/><text x="0" y="13.3" font-size="6.8" font-weight="bold" text-anchor="middle" fill="#fff" fill-opacity=".85" transform="rotate(180 0 10.9)">G</text></g>
<g transform="translate(623.0 126.6) rotate(-0.0)"><path d="M-4.4 0H4.4V21.56L0 24.44L-4.4 21.56Z" fill="#5C8EEE"/><rect x="-4.4" y="0" width="3.5" height="20.6" fill="#fff" fill-opacity=".2"/><text x="0" y="15.0" font-size="6.8" font-weight="bold" text-anchor="middle" fill="#fff" fill-opacity=".85" transform="rotate(0 0 12.6)">C</text></g>
<g transform="translate(637.5 164.0) rotate(-180.0)"><path d="M-4.4 0H4.4V22.89Q2.2 18.33 0 18.33Q-2.2 18.33 -4.4 22.89Z" fill="#62CDBE"/><rect x="-4.4" y="0" width="3.5" height="18.8" fill="#fff" fill-opacity=".2"/><text x="0" y="14.1" font-size="6.8" font-weight="bold" text-anchor="middle" fill="#fff" fill-opacity=".85" transform="rotate(180 0 11.7)">T</text></g>
<g transform="translate(637.5 126.8) rotate(-0.0)"><path d="M-4.4 0H4.4V14.34Q4.4 17.70 0 17.70Q-4.4 17.70 -4.4 14.34Z" fill="#F03CBC"/><rect x="-4.4" y="0" width="3.5" height="13.6" fill="#fff" fill-opacity=".2"/><text x="0" y="11.2" font-size="6.8" font-weight="bold" text-anchor="middle" fill="#fff" fill-opacity=".85" transform="rotate(0 0 8.8)">U</text></g>
<g transform="translate(455.2 214.0) rotate(-37.5)"><path d="M-4.4 0H4.4V19.84L0 16.96L-4.4 19.84Z" fill="#FAC543"/><rect x="-4.4" y="0" width="3.5" height="16.0" fill="#fff" fill-opacity=".2"/><text x="0" y="12.5" font-size="6.8" font-weight="bold" text-anchor="middle" fill="#fff" fill-opacity=".85" transform="rotate(0 0 10.1)">G</text></g>
<g transform="translate(470.6 202.0) rotate(-29.1)"><path d="M-4.4 0H4.4V17.71Q2.2 13.15 0 13.15Q-2.2 13.15 -4.4 17.71Z" fill="#62CDBE"/><rect x="-4.4" y="0" width="3.5" height="13.6" fill="#fff" fill-opacity=".2"/><text x="0" y="11.2" font-size="6.8" font-weight="bold" text-anchor="middle" fill="#fff" fill-opacity=".85" transform="rotate(0 0 8.8)">T</text></g>
<g transform="translate(482.4 186.4) rotate(-32.5)"><path d="M-4.4 0H4.4V20.41L0 17.53L-4.4 20.41Z" fill="#FAC543"/><rect x="-4.4" y="0" width="3.5" height="16.6" fill="#fff" fill-opacity=".2"/><text x="0" y="12.8" font-size="6.8" font-weight="bold" text-anchor="middle" fill="#fff" fill-opacity=".85" transform="rotate(0 0 10.4)">G</text></g>
<g transform="translate(493.6 174.6) rotate(-43.1)"><path d="M-4.4 0H4.4V18.66Q2.2 14.10 0 14.10Q-2.2 14.10 -4.4 18.66Z" fill="#62CDBE"/><rect x="-4.4" y="0" width="3.5" height="14.6" fill="#fff" fill-opacity=".2"/><text x="0" y="11.7" font-size="6.8" font-weight="bold" text-anchor="middle" fill="#fff" fill-opacity=".85" transform="rotate(0 0 9.3)">T</text></g>
<g transform="translate(515.8 165.4) rotate(7.4)"><path d="M-4.4 0H4.4V16.88Q4.4 20.24 0 20.24Q-4.4 20.24 -4.4 16.88Z" fill="#F03CBC"/><rect x="-4.4" y="0" width="3.5" height="16.2" fill="#fff" fill-opacity=".2"/><text x="0" y="12.6" font-size="6.8" font-weight="bold" text-anchor="middle" fill="#fff" fill-opacity=".85" transform="rotate(0 0 10.2)">U</text></g>
<g transform="translate(525.8 161.8) rotate(-25.7)"><path d="M-4.4 0H4.4V18.77Q2.2 14.21 0 14.21Q-2.2 14.21 -4.4 18.77Z" fill="#62CDBE"/><rect x="-4.4" y="0" width="3.5" height="14.7" fill="#fff" fill-opacity=".2"/><text x="0" y="11.8" font-size="6.8" font-weight="bold" text-anchor="middle" fill="#fff" fill-opacity=".85" transform="rotate(0 0 9.4)">T</text></g>
<g transform="translate(539.2 153.6) rotate(-27.1)"><path d="M-4.4 0H4.4V20.11Q2.2 15.55 0 15.55Q-2.2 15.55 -4.4 20.11Z" fill="#62CDBE"/><rect x="-4.4" y="0" width="3.5" height="16.0" fill="#fff" fill-opacity=".2"/><text x="0" y="12.5" font-size="6.8" font-weight="bold" text-anchor="middle" fill="#fff" fill-opacity=".85" transform="rotate(0 0 10.1)">T</text></g>
<g transform="translate(552.0 144.4) rotate(-25.8)"><path d="M-4.4 0H4.4V20.76L0 17.88L-4.4 20.76Z" fill="#FAC543"/><rect x="-4.4" y="0" width="3.5" height="16.9" fill="#fff" fill-opacity=".2"/><text x="0" y="13.0" font-size="6.8" font-weight="bold" text-anchor="middle" fill="#fff" fill-opacity=".85" transform="rotate(0 0 10.6)">G</text></g>
<g transform="translate(567.8 133.0) rotate(-8.2)"><path d="M-4.4 0H4.4V17.04Q2.2 12.48 0 12.48Q-2.2 12.48 -4.4 17.04Z" fill="#62CDBE"/><rect x="-4.4" y="0" width="3.5" height="13.0" fill="#fff" fill-opacity=".2"/><text x="0" y="10.8" font-size="6.8" font-weight="bold" text-anchor="middle" fill="#fff" fill-opacity=".85" transform="rotate(0 0 8.4)">T</text></g>
<polygon points="369.5,84.1 370.5,84.1 371.5,84.1 372.5,84.2 373.5,84.3 374.5,84.5 375.5,84.7 376.5,84.9 377.5,85.2 378.5,85.5 379.5,85.8 380.5,86.1 381.5,86.5 382.5,86.9 383.5,87.3 384.5,87.7 385.5,88.2 386.5,88.6 387.5,89.1 388.5,89.5 389.5,89.9 390.5,90.3 391.5,90.8 392.5,91.3 393.5,91.9 394.5,92.6 395.5,93.3 396.5,94.0 397.5,94.8 398.5,95.6 399.5,96.5 400.5,97.4 401.5,98.2 402.5,99.1 403.5,100.0 404.5,100.9 405.5,101.7 406.5,102.4 407.5,103.1 408.5,103.8 409.5,104.6 410.5,105.4 411.5,106.3 412.5,107.1 413.5,108.0 414.5,108.9 415.5,109.7 416.5,110.6 417.5,111.5 418.5,112.4 419.5,113.2 420.5,114.1 421.5,114.9 422.5,115.7 423.5,116.5 424.5,117.2 425.5,117.9 426.5,118.4 427.5,118.8 428.5,119.2 429.5,119.7 430.5,120.1 431.5,120.6 432.5,121.1 433.5,121.5 434.5,122.0 435.5,122.4 436.5,122.9 437.5,123.3 438.5,123.7 439.5,124.1 440.5,124.5 441.5,124.8 442.5,125.2 443.5,125.5 444.5,125.8 445.5,126.0 446.5,126.0 446.5,129.0 445.5,129.0 444.5,129.1 443.5,129.2 442.5,129.3 441.5,129.3 440.5,129.2 439.5,129.1 438.5,129.0 437.5,128.8 436.5,128.6 435.5,128.3 434.5,128.0 433.5,127.7 432.5,127.4 431.5,127.0 430.5,126.6 429.5,126.2 428.5,125.8 427.5,125.4 426.5,124.9 425.5,124.5 424.5,124.2 423.5,124.0 422.5,123.6 421.5,123.2 420.5,122.7 419.5,122.1 418.5,121.6 417.5,120.9 416.5,120.2 415.5,119.5 414.5,118.8 413.5,118.0 412.5,117.2 411.5,116.3 410.5,115.5 409.5,114.6 408.5,113.7 407.5,112.8 406.5,112.0 405.5,111.1 404.5,110.3 403.5,109.7 402.5,108.9 401.5,108.2 400.5,107.4 399.5,106.6 398.5,105.7 397.5,104.9 396.5,104.0 395.5,103.1 394.5,102.2 393.5,101.3 392.5,100.4 391.5,99.5 390.5,98.7 389.5,97.8 388.5,97.0 387.5,96.4 386.5,95.8 385.5,95.3 384.5,94.7 383.5,94.2 382.5,93.7 381.5,93.1 380.5,92.6 379.5,92.1 378.5,91.6 377.5,91.2 376.5,90.7 375.5,90.3 374.5,89.8 373.5,89.4 372.5,89.1 371.5,88.7 370.5,88.3 369.5,88.0" fill="#D3D3D5"/>
<polygon points="607.5,41.2 608.5,41.1 609.5,41.1 610.5,41.1 611.5,41.1 612.5,41.1 613.5,41.1 614.5,41.2 615.5,41.2 616.5,41.3 617.5,41.4 618.5,41.5 619.5,41.6 620.5,41.8 621.5,41.9 622.5,42.1 623.5,42.1 624.5,42.2 625.5,42.3 626.5,42.4 627.5,42.6 628.5,42.8 629.5,43.0 630.5,43.2 631.5,43.5 632.5,43.8 633.5,44.2 634.5,44.5 635.5,44.9 636.5,45.3 637.5,45.7 638.5,46.2 639.5,46.5 640.5,46.8 641.5,47.1 642.5,47.6 643.5,48.2 644.5,48.8 645.5,49.5 646.5,50.3 647.5,51.2 648.5,52.1 649.5,53.0 650.5,53.9 651.5,54.9 652.5,55.9 653.5,56.6 654.5,57.4 655.5,58.3 656.5,59.1 657.5,60.1 658.5,61.0 659.5,62.0 660.5,63.0 661.5,64.0 662.5,65.0 663.5,66.1 664.5,67.1 665.5,68.1 666.5,69.1 667.5,70.1 668.5,70.9 669.5,71.7 670.5,72.4 671.5,73.1 672.5,73.9 673.5,74.6 674.5,75.3 675.5,76.0 676.5,76.7 677.5,77.3 678.5,78.0 679.5,78.6 680.5,79.2 681.5,79.8 682.5,80.3 683.5,80.9 684.5,81.3 685.5,81.7 686.5,82.1 687.5,82.5 688.5,82.8 689.5,83.1 690.5,83.4 691.5,83.7 692.5,84.0 693.5,84.2 694.5,84.4 695.5,84.7 696.5,84.9 697.5,85.2 698.5,85.5 699.5,85.9 700.5,86.2 701.5,86.5 702.5,86.8 703.5,87.1 704.5,87.4 705.5,87.7 706.5,87.9 707.5,88.2 708.5,88.5 709.5,88.8 710.5,89.1 711.5,89.4 712.5,89.7 713.5,90.1 714.5,90.4 715.5,90.7 716.5,91.1 717.5,91.4 718.5,91.8 719.5,92.2 720.5,92.6 721.5,93.1 722.5,93.6 723.5,94.1 724.5,94.7 725.5,95.3 726.5,95.9 727.5,96.5 728.5,97.2 729.5,97.9 730.5,98.6 731.5,99.4 732.5,100.1 733.5,100.9 734.5,101.5 735.5,102.0 736.5,102.7 737.5,103.5 738.5,104.4 739.5,105.5 740.5,106.6 741.5,107.6 742.5,108.7 743.5,109.7 744.5,110.8 745.5,112.0 746.5,113.2 747.5,114.4 748.5,115.5 749.5,116.6 750.5,117.4 751.5,118.0 752.5,118.5 753.5,119.2 754.5,119.8 755.5,120.4 756.5,121.1 757.5,121.7 758.5,122.4 759.5,123.0 760.5,123.6 761.5,124.1 762.5,124.7 763.5,125.2 764.5,125.6 765.5,125.7 765.5,128.7 764.5,128.8 763.5,129.0 762.5,129.2 761.5,129.3 760.5,129.2 759.5,129.1 758.5,128.9 757.5,128.6 756.5,128.3 755.5,127.9 754.5,127.4 753.5,126.9 752.5,126.4 751.5,125.8 750.5,125.2 749.5,124.8 748.5,124.5 747.5,124.1 746.5,123.6 745.5,123.0 744.5,122.2 743.5,121.2 742.5,120.2 741.5,119.1 740.5,118.1 739.5,117.0 738.5,115.9 737.5,114.9 736.5,113.7 735.5,112.5 734.5,111.3 733.5,110.4 732.5,109.6 731.5,108.8 730.5,108.0 729.5,107.2 728.5,106.4 727.5,105.6 726.5,104.8 725.5,104.0 724.5,103.3 723.5,102.5 722.5,101.8 721.5,101.0 720.5,100.3 719.5,99.6 718.5,99.0 717.5,98.3 716.5,97.7 715.5,97.2 714.5,96.7 713.5,96.2 712.5,95.8 711.5,95.4 710.5,94.9 709.5,94.6 708.5,94.2 707.5,93.8 706.5,93.5 705.5,93.1 704.5,92.8 703.5,92.5 702.5,92.2 701.5,91.9 700.5,91.6 699.5,91.3 698.5,91.0 697.5,90.7 696.5,90.4 695.5,90.0 694.5,89.7 693.5,89.4 692.5,89.1 691.5,88.8 690.5,88.5 689.5,88.3 688.5,88.0 687.5,87.8 686.5,87.6 685.5,87.3 684.5,87.1 683.5,86.8 682.5,86.6 681.5,86.3 680.5,86.0 679.5,85.6 678.5,85.3 677.5,84.8 676.5,84.4 675.5,83.9 674.5,83.4 673.5,82.8 672.5,82.3 671.5,81.7 670.5,81.1 669.5,80.4 668.5,79.8 667.5,79.2 666.5,78.7 665.5,78.0 664.5,77.4 663.5,76.6 662.5,75.8 661.5,75.0 660.5,74.1 659.5,73.1 658.5,72.2 657.5,71.2 656.5,70.2 655.5,69.2 654.5,68.1 653.5,67.1 652.5,66.1 651.5,65.3 650.5,64.5 649.5,63.7 648.5,62.8 647.5,61.8 646.5,60.8 645.5,59.9 644.5,58.9 643.5,57.9 642.5,56.9 641.5,55.9 640.5,54.9 639.5,54.0 638.5,53.3 637.5,52.8 636.5,52.2 635.5,51.7 634.5,51.2 633.5,50.6 632.5,50.1 631.5,49.7 630.5,49.2 629.5,48.7 628.5,48.3 627.5,47.9 626.5,47.5 625.5,47.1 624.5,46.8 623.5,46.4 622.5,46.2 621.5,46.0 620.5,45.9 619.5,45.7 618.5,45.5 617.5,45.4 616.5,45.2 615.5,45.0 614.5,44.9 613.5,44.7 612.5,44.6 611.5,44.5 610.5,44.3 609.5,44.2 608.5,44.1 607.5,44.0" fill="#D3D3D5"/>
<polygon points="843.5,84.8 844.5,84.7 845.5,84.7 846.5,84.7 847.5,84.7 848.5,84.7 849.5,84.7 850.5,84.8 851.5,84.8 852.5,84.9 853.5,85.0 854.5,85.1 855.5,85.2 856.5,85.3 857.5,85.4 858.5,85.5 859.5,85.6 860.5,85.7 861.5,85.9 862.5,86.0 863.5,86.2 864.5,86.3 865.5,86.5 866.5,86.5 867.5,86.6 867.5,91.2 866.5,90.9 865.5,90.6 864.5,90.4 863.5,90.3 862.5,90.1 861.5,90.0 860.5,89.8 859.5,89.6 858.5,89.5 857.5,89.3 856.5,89.2 855.5,89.0 854.5,88.9 853.5,88.7 852.5,88.6 851.5,88.5 850.5,88.3 849.5,88.2 848.5,88.1 847.5,88.0 846.5,87.9 845.5,87.8 844.5,87.7 843.5,87.6" fill="#D3D3D5"/>
<polygon points="446.5,84.3 447.5,84.2 448.5,84.1 449.5,84.0 450.5,84.0 451.5,84.1 452.5,84.2 453.5,84.3 454.5,84.5 455.5,84.7 456.5,85.0 457.5,85.3 458.5,85.6 459.5,85.9 460.5,86.3 461.5,86.6 462.5,87.0 463.5,87.4 464.5,87.9 465.5,88.3 466.5,88.7 467.5,88.9 468.5,89.2 469.5,89.6 470.5,90.0 471.5,90.5 472.5,91.0 473.5,91.6 474.5,92.2 475.5,92.9 476.5,93.6 477.5,94.3 478.5,95.0 479.5,95.8 480.5,96.6 481.5,97.4 482.5,98.2 483.5,99.1 484.5,99.9 485.5,100.7 486.5,101.5 487.5,102.2 488.5,102.8 489.5,103.5 490.5,104.3 491.5,105.1 492.5,105.9 493.5,106.7 494.5,107.5 495.5,108.4 496.5,109.3 497.5,110.1 498.5,111.0 499.5,111.9 500.5,112.7 501.5,113.6 502.5,114.4 503.5,115.2 504.5,116.0 505.5,116.6 506.5,117.2 507.5,117.8 508.5,118.3 509.5,118.8 510.5,119.3 511.5,119.8 512.5,120.3 513.5,120.8 514.5,121.3 515.5,121.7 516.5,122.1 517.5,122.5 518.5,122.9 519.5,123.3 520.5,123.7 521.5,124.1 522.5,124.4 523.5,124.8 524.5,125.1 525.5,125.4 526.5,125.7 527.5,126.0 528.5,126.2 529.5,126.5 530.5,126.7 531.5,126.8 532.5,127.0 533.5,127.2 534.5,127.3 535.5,127.5 536.5,127.6 537.5,127.8 538.5,127.9 539.5,128.1 540.5,128.3 541.5,128.5 542.5,128.7 543.5,129.0 544.5,129.2 545.5,129.6 546.5,129.9 547.5,130.3 548.5,130.7 549.5,131.1 550.5,131.5 551.5,132.0 552.5,132.5 553.5,133.0 554.5,133.5 555.5,134.1 556.5,134.7 557.5,135.2 558.5,135.8 559.5,136.2 560.5,136.7 561.5,137.3 562.5,137.9 563.5,138.6 564.5,139.4 565.5,140.2 566.5,141.0 567.5,141.9 568.5,142.9 569.5,143.8 570.5,144.8 571.5,145.8 572.5,146.8 573.5,147.8 574.5,148.8 575.5,149.8 576.5,150.8 577.5,151.5 578.5,152.2 579.5,152.9 580.5,153.7 581.5,154.5 582.5,155.2 583.5,156.0 584.5,156.8 585.5,157.6 586.5,158.4 587.5,159.2 588.5,160.0 589.5,160.7 590.5,161.5 591.5,162.2 592.5,162.9 593.5,163.5 594.5,164.1 595.5,164.5 596.5,164.8 597.5,165.2 598.5,165.5 599.5,165.8 600.5,166.2 601.5,166.5 602.5,166.8 603.5,167.1 604.5,167.4 605.5,167.7 606.5,168.0 607.5,168.3 608.5,168.5 609.5,168.8 610.5,169.0 611.5,169.2 612.5,169.4 613.5,169.3 613.5,172.3 612.5,172.2 611.5,172.4 610.5,172.4 609.5,172.5 608.5,172.5 607.5,172.4 606.5,172.4 605.5,172.3 604.5,172.1 603.5,172.0 602.5,171.8 601.5,171.6 600.5,171.4 599.5,171.1 598.5,170.9 597.5,170.6 596.5,170.3 595.5,170.0 594.5,169.7 593.5,169.6 592.5,169.5 591.5,169.2 590.5,168.9 589.5,168.5 588.5,168.1 587.5,167.6 586.5,167.0 585.5,166.5 584.5,165.8 583.5,165.2 582.5,164.5 581.5,163.8 580.5,163.0 579.5,162.3 578.5,161.5 577.5,160.7 576.5,159.9 575.5,159.4 574.5,158.8 573.5,158.1 572.5,157.3 571.5,156.5 570.5,155.6 569.5,154.7 568.5,153.8 567.5,152.8 566.5,151.9 565.5,150.9 564.5,149.9 563.5,148.9 562.5,147.9 561.5,146.9 560.5,145.9 559.5,144.9 558.5,144.0 557.5,143.4 556.5,142.7 555.5,142.1 554.5,141.4 553.5,140.8 552.5,140.2 551.5,139.5 550.5,138.9 549.5,138.3 548.5,137.7 547.5,137.2 546.5,136.6 545.5,136.1 544.5,135.5 543.5,135.0 542.5,134.6 541.5,134.1 540.5,133.7 539.5,133.3 538.5,132.9 537.5,132.6 536.5,132.3 535.5,132.0 534.5,131.8 533.5,131.6 532.5,131.4 531.5,131.2 530.5,131.0 529.5,130.8 528.5,130.7 527.5,130.5 526.5,130.4 525.5,130.2 524.5,130.1 523.5,129.9 522.5,129.7 521.5,129.5 520.5,129.2 519.5,128.9 518.5,128.7 517.5,128.4 516.5,128.1 515.5,127.8 514.5,127.4 513.5,127.1 512.5,126.7 511.5,126.4 510.5,126.0 509.5,125.6 508.5,125.2 507.5,124.8 506.5,124.3 505.5,123.9 504.5,123.5 503.5,123.1 502.5,122.7 501.5,122.2 500.5,121.7 499.5,121.1 498.5,120.4 497.5,119.7 496.5,119.0 495.5,118.2 494.5,117.4 493.5,116.6 492.5,115.8 491.5,114.9 490.5,114.1 489.5,113.2 488.5,112.3 487.5,111.5 486.5,110.6 485.5,109.9 484.5,109.3 483.5,108.6 482.5,107.8 481.5,107.1 480.5,106.3 479.5,105.5 478.5,104.6 477.5,103.8 476.5,103.0 475.5,102.2 474.5,101.3 473.5,100.5 472.5,99.7 471.5,98.9 470.5,98.1 469.5,97.3 468.5,96.6 467.5,95.9 466.5,95.2 465.5,94.7 464.5,94.3 463.5,93.9 462.5,93.4 461.5,93.0 460.5,92.6 459.5,92.1 458.5,91.7 457.5,91.2 456.5,90.8 455.5,90.4 454.5,89.9 453.5,89.5 452.5,89.1 451.5,88.8 450.5,88.4 449.5,88.1 448.5,87.8 447.5,87.5 446.5,87.3" fill="#D3D3D5"/>
<polygon points="765.5,84.7 766.5,84.6 767.5,84.6 768.5,84.5 769.5,84.5 770.5,84.6 771.5,84.6 772.5,84.7 773.5,84.9 774.5,85.0 775.5,85.2 776.5,85.4 777.5,85.6 778.5,85.9 779.5,86.1 780.5,86.4 781.5,86.7 782.5,87.0 783.5,87.3 784.5,87.7 785.5,88.0 786.5,88.4 787.5,88.6 788.5,88.8 789.5,89.1 790.5,89.4 791.5,89.7 792.5,90.2 793.5,90.7 794.5,91.2 795.5,91.8 796.5,92.4 797.5,93.1 798.5,93.8 799.5,94.5 800.5,95.2 801.5,96.0 802.5,96.8 803.5,97.6 804.5,98.4 805.5,99.3 806.5,100.1 807.5,100.9 808.5,101.6 809.5,102.3 810.5,102.9 811.5,103.7 812.5,104.5 813.5,105.3 814.5,106.2 815.5,107.2 816.5,108.1 817.5,109.1 818.5,110.1 819.5,111.1 820.5,112.1 821.5,113.0 822.5,114.0 823.5,115.0 824.5,115.9 825.5,116.8 826.5,117.4 827.5,117.9 828.5,118.4 829.5,119.0 830.5,119.5 831.5,120.1 832.5,120.7 833.5,121.2 834.5,121.8 835.5,122.4 836.5,122.9 837.5,123.5 838.5,124.0 839.5,124.4 840.5,124.9 841.5,125.3 842.5,125.6 843.5,125.8 843.5,128.6 842.5,128.7 841.5,129.0 840.5,129.1 839.5,129.2 838.5,129.1 837.5,129.0 836.5,128.9 835.5,128.6 834.5,128.4 833.5,128.0 832.5,127.7 831.5,127.2 830.5,126.8 829.5,126.3 828.5,125.8 827.5,125.2 826.5,124.7 825.5,124.3 824.5,124.0 823.5,123.6 822.5,123.2 821.5,122.6 820.5,122.0 819.5,121.3 818.5,120.5 817.5,119.7 816.5,118.8 815.5,117.9 814.5,117.0 813.5,116.1 812.5,115.1 811.5,114.1 810.5,113.1 809.5,112.1 808.5,111.1 807.5,110.3 806.5,109.6 805.5,108.9 804.5,108.1 803.5,107.3 802.5,106.5 801.5,105.7 800.5,104.9 799.5,104.1 798.5,103.2 797.5,102.4 796.5,101.5 795.5,100.7 794.5,99.9 793.5,99.1 792.5,98.3 791.5,97.5 790.5,96.8 789.5,96.1 788.5,95.4 787.5,94.7 786.5,94.3 785.5,93.9 784.5,93.5 783.5,93.2 782.5,92.8 781.5,92.4 780.5,92.0 779.5,91.7 778.5,91.3 777.5,91.0 776.5,90.6 775.5,90.3 774.5,89.9 773.5,89.6 772.5,89.3 771.5,89.0 770.5,88.7 769.5,88.5 768.5,88.2 767.5,88.0 766.5,87.8 765.5,87.7" fill="#D3D3D5"/>
<polygon points="435.3,222.0 436.3,221.3 437.3,220.7 438.3,220.0 439.3,219.3 440.3,218.5 441.3,217.8 442.3,217.0 443.3,216.3 444.3,215.5 445.3,214.7 446.3,213.9 447.3,213.1 448.3,212.3 449.3,211.5 450.3,210.6 451.3,209.8 452.3,208.9 453.3,208.0 454.3,207.1 455.3,206.2 456.3,205.3 457.3,204.4 458.3,203.5 459.3,202.6 460.3,201.7 461.3,200.7 462.3,199.7 463.3,198.7 464.3,197.7 465.3,196.6 466.3,195.4 467.3,194.1 468.3,192.8 469.3,191.4 470.3,189.9 471.3,188.4 472.3,186.9 473.3,185.4 474.3,184.0 475.3,182.5 476.3,181.2 477.3,179.9 478.3,178.7 479.3,177.6 480.3,176.6 481.3,175.6 482.3,174.6 483.3,173.7 484.3,172.7 485.3,171.8 486.3,170.9 487.3,170.1 488.3,169.2 489.3,168.4 490.3,167.6 491.3,166.8 492.3,166.0 493.3,165.3 494.3,164.6 495.3,163.9 496.3,163.2 497.3,162.5 498.3,161.9 499.3,161.3 500.3,160.7 501.3,160.1 502.3,159.6 503.3,159.1 504.3,158.6 505.3,158.1 506.3,157.7 507.3,157.3 508.3,156.9 509.3,156.5 510.3,156.1 511.3,155.8 512.3,155.4 513.3,155.1 514.3,154.7 515.3,154.4 516.3,154.0 517.3,153.7 518.3,153.3 519.3,153.0 520.3,152.6 521.3,152.2 522.3,151.8 523.3,151.4 524.3,150.9 525.3,150.5 526.3,150.0 527.3,149.4 528.3,148.9 529.3,148.3 530.3,147.6 531.3,146.9 532.3,146.1 533.3,145.3 534.3,144.5 535.3,143.7 536.3,142.8 537.3,141.9 538.3,141.1 539.3,140.2 540.3,139.3 541.3,138.5 542.3,137.7 543.3,136.9 544.3,136.2 545.3,135.5 546.3,134.9 547.3,134.3 548.3,133.7 549.3,133.1 550.3,132.5 551.3,132.0 552.3,131.5 553.3,131.0 554.3,130.5 555.3,130.1 556.3,129.6 557.3,129.2 558.3,128.8 559.3,128.5 560.3,128.1 561.3,127.8 562.3,127.6 563.3,127.3 564.3,127.1 565.3,126.9 566.3,126.7 567.3,126.5 568.3,126.3 569.3,126.1 570.3,126.0 571.3,125.8 572.3,125.7 573.3,125.6 574.3,125.5 575.3,125.4 576.3,125.3 577.3,125.3 578.3,125.3 579.3,125.2 580.3,125.2 581.3,125.2 582.3,125.2 583.3,125.2 584.3,125.1 585.3,125.1 586.3,125.0 587.3,125.0 588.3,124.9 589.3,124.9 590.3,124.8 591.3,124.7 592.3,124.7 593.3,124.6 594.3,124.6 595.3,124.5 596.3,124.5 597.3,124.4 598.3,124.4 599.3,124.3 600.3,124.3 601.3,124.2 602.3,124.2 603.3,124.2 604.3,124.1 605.3,124.1 606.3,124.1 607.3,124.0 608.3,124.0 609.3,124.0 610.3,123.9 611.3,123.9 612.3,123.9 613.3,123.9 614.3,123.9 615.3,123.9 616.3,123.8 617.3,123.8 618.3,123.8 619.3,123.8 620.3,123.8 621.3,123.8 622.3,123.8 623.3,123.8 624.3,123.9 625.3,123.9 626.3,123.9 627.3,123.9 628.3,123.9 629.3,123.9 630.3,123.9 631.3,123.9 632.3,124.0 633.3,124.0 634.3,124.0 635.3,124.0 636.3,124.1 637.3,124.1 638.3,124.1 639.3,124.2 640.3,124.2 641.3,124.2 642.3,124.3 643.3,124.3 644.3,124.4 645.3,124.4 646.3,124.5 647.3,124.5 648.3,124.6 649.3,124.7 650.3,124.7 651.3,124.9 652.3,125.2 653.3,125.6 654.3,126.0 655.3,126.4 656.3,126.8 656.3,128.3 655.3,128.6 654.3,128.9 653.3,129.2 652.3,129.5 651.3,129.6 650.3,129.7 649.3,129.7 648.3,129.7 647.3,129.6 646.3,129.6 645.3,129.6 644.3,129.6 643.3,129.6 642.3,129.5 641.3,129.5 640.3,129.5 639.3,129.5 638.3,129.5 637.3,129.5 636.3,129.4 635.3,129.4 634.3,129.4 633.3,129.4 632.3,129.4 631.3,129.4 630.3,129.4 629.3,129.4 628.3,129.4 627.3,129.4 626.3,129.4 625.3,129.4 624.3,129.4 623.3,129.4 622.3,129.4 621.3,129.4 620.3,129.4 619.3,129.4 618.3,129.4 617.3,129.4 616.3,129.4 615.3,129.4 614.3,129.4 613.3,129.4 612.3,129.5 611.3,129.5 610.3,129.5 609.3,129.6 608.3,129.6 607.3,129.6 606.3,129.7 605.3,129.7 604.3,129.7 603.3,129.8 602.3,129.8 601.3,129.9 600.3,129.9 599.3,130.0 598.3,130.1 597.3,130.1 596.3,130.2 595.3,130.3 594.3,130.3 593.3,130.4 592.3,130.5 591.3,130.6 590.3,130.6 589.3,130.7 588.3,130.8 587.3,130.9 586.3,131.0 585.3,131.1 584.3,131.2 583.3,131.3 582.3,131.4 581.3,131.6 580.3,131.8 579.3,132.1 578.3,132.3 577.3,132.6 576.3,132.9 575.3,133.2 574.3,133.6 573.3,133.9 572.3,134.2 571.3,134.6 570.3,134.9 569.3,135.2 568.3,135.6 567.3,135.9 566.3,136.3 565.3,136.7 564.3,137.0 563.3,137.4 562.3,137.8 561.3,138.3 560.3,138.7 559.3,139.2 558.3,139.7 557.3,140.2 556.3,140.7 555.3,141.3 554.3,141.8 553.3,142.4 552.3,142.9 551.3,143.5 550.3,144.0 549.3,144.6 548.3,145.2 547.3,145.7 546.3,146.3 545.3,146.8 544.3,147.5 543.3,148.2 542.3,148.9 541.3,149.6 540.3,150.4 539.3,151.1 538.3,151.9 537.3,152.7 536.3,153.5 535.3,154.3 534.3,155.1 533.3,155.9 532.3,156.7 531.3,157.4 530.3,158.1 529.3,158.8 528.3,159.4 527.3,160.0 526.3,160.5 525.3,161.1 524.3,161.6 523.3,162.1 522.3,162.6 521.3,163.0 520.3,163.5 519.3,163.9 518.3,164.4 517.3,164.8 516.3,165.2 515.3,165.7 514.3,166.1 513.3,166.5 512.3,167.0 511.3,167.4 510.3,167.9 509.3,168.3 508.3,168.8 507.3,169.3 506.3,169.8 505.3,170.3 504.3,170.8 503.3,171.4 502.3,171.9 501.3,172.5 500.3,173.2 499.3,173.8 498.3,174.5 497.3,175.2 496.3,175.9 495.3,176.6 494.3,177.4 493.3,178.1 492.3,178.9 491.3,179.8 490.3,180.6 489.3,181.5 488.3,182.3 487.3,183.2 486.3,184.2 485.3,185.1 484.3,186.0 483.3,187.0 482.3,188.0 481.3,189.0 480.3,190.0 479.3,191.0 478.3,192.2 477.3,193.4 476.3,194.7 475.3,196.0 474.3,197.4 473.3,198.9 472.3,200.3 471.3,201.7 470.3,203.1 469.3,204.4 468.3,205.6 467.3,206.8 466.3,207.9 465.3,208.8 464.3,209.7 463.3,210.5 462.3,211.3 461.3,212.0 460.3,212.7 459.3,213.4 458.3,214.1 457.3,214.7 456.3,215.2 455.3,215.8 454.3,216.3 453.3,216.7 452.3,217.2 451.3,217.6 450.3,218.0 449.3,218.4 448.3,218.8 447.3,219.2 446.3,219.5 445.3,219.9 444.3,220.2 443.3,220.5 442.3,220.8 441.3,221.1 440.3,221.4 439.3,221.6 438.3,221.8 437.3,222.1 436.3,222.2 435.3,222.4" fill="url(#gMint)"/>
<polygon points="443.3,216.7 444.3,215.9 445.3,215.1 446.3,214.3 447.3,213.5 448.3,212.7 449.3,211.9 450.3,211.0 451.3,210.2 452.3,209.3 453.3,208.4 454.3,207.5 455.3,206.6 456.3,205.7 457.3,204.8 458.3,203.9 459.3,203.0 460.3,202.1 461.3,201.1 462.3,200.1 463.3,199.1 464.3,198.1 465.3,197.0 466.3,195.8 467.3,194.5 468.3,193.2 469.3,191.8 470.3,190.3 471.3,188.8 472.3,187.3 473.3,185.8 474.3,184.4 475.3,182.9 476.3,181.6 477.3,180.3 478.3,179.1 479.3,178.0 480.3,177.0 481.3,176.0 482.3,175.0 483.3,174.1 484.3,173.1 485.3,172.2 486.3,171.3 487.3,170.5 488.3,169.6 489.3,168.8 490.3,168.0 491.3,167.2 492.3,166.4 493.3,165.7 494.3,165.0 495.3,164.3 496.3,163.6 497.3,162.9 498.3,162.3 499.3,161.7 500.3,161.1 501.3,160.5 502.3,160.0 503.3,159.5 504.3,159.0 505.3,158.5 506.3,158.1 507.3,157.7 508.3,157.3 509.3,156.9 510.3,156.5 511.3,156.2 512.3,155.8 513.3,155.5 514.3,155.1 515.3,154.8 516.3,154.4 517.3,154.1 518.3,153.7 519.3,153.4 520.3,153.0 521.3,152.6 522.3,152.2 523.3,151.8 524.3,151.3 525.3,150.9 526.3,150.4 527.3,149.8 528.3,149.3 529.3,148.7 530.3,148.0 531.3,147.3 532.3,146.5 533.3,145.7 534.3,144.9 535.3,144.1 536.3,143.2 537.3,142.3 538.3,141.5 539.3,140.6 540.3,139.7 541.3,138.9 542.3,138.1 543.3,137.3 544.3,136.6 545.3,135.9 546.3,135.3 547.3,134.7 548.3,134.1 549.3,133.5 550.3,132.9 551.3,132.4 552.3,131.9 553.3,131.4 554.3,130.9 555.3,130.5 556.3,130.0 557.3,129.6 558.3,129.2 559.3,128.9 560.3,128.5 561.3,128.2 562.3,128.0 563.3,127.7 564.3,127.5 565.3,127.3 566.3,127.1 567.3,126.9 568.3,126.7 569.3,126.5 570.3,126.4 571.3,126.2 572.3,126.1 573.3,126.0 574.3,125.9 575.3,125.8 576.3,125.7 577.3,125.7 578.3,125.7 579.3,125.6 580.3,125.6 581.3,125.6 582.3,125.6 583.3,125.6 584.3,125.5 584.3,127.4 583.3,127.4 582.3,127.5 581.3,127.5 580.3,127.6 579.3,127.7 578.3,127.8 577.3,127.9 576.3,127.9 575.3,128.0 574.3,128.1 573.3,128.2 572.3,128.3 571.3,128.4 570.3,128.6 569.3,128.7 568.3,128.9 567.3,129.1 566.3,129.3 565.3,129.5 564.3,129.7 563.3,129.9 562.3,130.2 561.3,130.4 560.3,130.7 559.3,131.1 558.3,131.4 557.3,131.8 556.3,132.2 555.3,132.7 554.3,133.1 553.3,133.6 552.3,134.1 551.3,134.6 550.3,135.1 549.3,135.7 548.3,136.3 547.3,136.9 546.3,137.5 545.3,138.1 544.3,138.8 543.3,139.5 542.3,140.3 541.3,141.1 540.3,141.9 539.3,142.8 538.3,143.7 537.3,144.5 536.3,145.4 535.3,146.3 534.3,147.1 533.3,147.9 532.3,148.7 531.3,149.5 530.3,150.2 529.3,150.9 528.3,151.5 527.3,152.0 526.3,152.6 525.3,153.1 524.3,153.5 523.3,154.0 522.3,154.4 521.3,154.8 520.3,155.2 519.3,155.6 518.3,155.9 517.3,156.3 516.3,156.6 515.3,157.0 514.3,157.3 513.3,157.7 512.3,158.0 511.3,158.4 510.3,158.7 509.3,159.1 508.3,159.5 507.3,159.9 506.3,160.3 505.3,160.7 504.3,161.2 503.3,161.7 502.3,162.2 501.3,162.7 500.3,163.3 499.3,163.9 498.3,164.5 497.3,165.1 496.3,165.8 495.3,166.5 494.3,167.2 493.3,167.9 492.3,168.6 491.3,169.4 490.3,170.2 489.3,171.0 488.3,171.8 487.3,172.7 486.3,173.5 485.3,174.4 484.3,175.3 483.3,176.3 482.3,177.2 481.3,178.2 480.3,179.2 479.3,180.2 478.3,181.3 477.3,182.5 476.3,183.8 475.3,185.1 474.3,186.6 473.3,188.0 472.3,189.5 471.3,191.0 470.3,192.5 469.3,194.0 468.3,195.4 467.3,196.7 466.3,198.0 465.3,199.2 464.3,200.3 463.3,201.3 462.3,202.3 461.3,203.3 460.3,204.3 459.3,205.2 458.3,206.1 457.3,207.0 456.3,207.9 455.3,208.8 454.3,209.7 453.3,210.6 452.3,211.5 451.3,212.4 450.3,213.2 449.3,213.9 448.3,214.6 447.3,215.3 446.3,216.0 445.3,216.7 444.3,217.3 443.3,218.0" fill="#fff" fill-opacity=".35"/>
</g></defs>

<defs>
 <linearGradient id="gOuter" x1="0" y1="302" x2="0" y2="882" gradientUnits="userSpaceOnUse">
  <stop offset="0" stop-color="#0A0620" stop-opacity=".43"/>
  <stop offset="1" stop-color="#0A0620" stop-opacity=".12"/>
 </linearGradient>
 <linearGradient id="gArrowR" x1="800" y1="0" x2="1118" y2="0" gradientUnits="userSpaceOnUse">
  <stop offset="0" stop-color="#0A0018" stop-opacity="0"/>
  <stop offset="1" stop-color="#0A0018" stop-opacity=".5"/>
 </linearGradient>
 <linearGradient id="gBot" x1="0" y1="879" x2="0" y2="1052" gradientUnits="userSpaceOnUse">
  <stop offset="0" stop-color="#2A0A28" stop-opacity=".62"/>
  <stop offset=".5" stop-color="#2A0A28" stop-opacity=".38"/>
  <stop offset="1" stop-color="#2A0A28" stop-opacity=".08"/>
 </linearGradient>
 <linearGradient id="gBotB" x1="0" y1="879" x2="0" y2="1052" gradientUnits="userSpaceOnUse">
  <stop offset="0" stop-color="#FF8AB8" stop-opacity=".7"/>
  <stop offset=".3" stop-color="#FF8AB8" stop-opacity=".4"/>
  <stop offset="1" stop-color="#FF8AB8" stop-opacity=".12"/>
 </linearGradient>
 <linearGradient id="gBan" x1="0" y1="1052" x2="0" y2="1162" gradientUnits="userSpaceOnUse">
  <stop offset="0" stop-color="#DDA61B"/>
  <stop offset=".5" stop-color="#EFA01D"/>
  <stop offset="1" stop-color="#F5931F"/>
 </linearGradient>
 <linearGradient id="gBox" x1="0" y1="410" x2="0" y2="760" gradientUnits="userSpaceOnUse">
  <stop offset="0" stop-color="#14001A" stop-opacity=".10"/>
  <stop offset="1" stop-color="#14001A" stop-opacity=".41"/>
 </linearGradient>
 <linearGradient id="gPoly" x1="0" y1="519" x2="0" y2="628" gradientUnits="userSpaceOnUse">
  <stop offset="0" stop-color="#14001A" stop-opacity=".12"/>
  <stop offset="1" stop-color="#14001A" stop-opacity=".42"/>
 </linearGradient>
 <pattern id="pHex" x="61.2" y="3.1" width="100.9" height="174.76" patternUnits="userSpaceOnUse" viewBox="0 0 100 173.2" preserveAspectRatio="none">
  <path d="M0 28.87L50 0L100 28.87M100 86.6L50 115.47L0 86.6M0 28.87V86.6M100 28.87V86.6M50 115.47V173.2" fill="none" stroke="#fff" stroke-opacity=".028" stroke-width="1.2"/>
  <g fill="#fff" fill-opacity=".038"><circle cx="50" cy="0" r="2.6"/><circle cx="50" cy="173.2" r="2.6"/><circle cx="0" cy="28.87" r="2.6"/><circle cx="100" cy="28.87" r="2.6"/><circle cx="0" cy="86.6" r="2.6"/><circle cx="100" cy="86.6" r="2.6"/><circle cx="50" cy="115.47" r="2.6"/></g>
 </pattern>
 <filter id="fSoft" x="-2%" y="-2%" width="104%" height="104%"><feGaussianBlur stdDeviation="1.4"/></filter>
</defs>
<rect x="0" y="0" width="1440" height="1183" fill="url(#pHex)"/>
<path d="M18 304H1424.6V900H18Z" fill="url(#gOuter)" filter="url(#fSoft)"/>
<path d="M800 365H1088L1118.5 570L1070 775H800Z" fill="url(#gArrowR)"/>
<rect x="18" y="302" width="1409" height="63.5" rx="5" fill="#18082D"/>
<rect x="18" y="365.5" width="1070" height="2.5" fill="#000" fill-opacity=".08"/>
<rect x="40.5" y="410.5" width="171.0" height="349.0" fill="url(#gBox)"/><path d="M40.5 410.5V759.5H211.5V410.5" fill="none" stroke="#fff" stroke-opacity="0.85" stroke-width="1.0" stroke-dasharray="3.2 2.6"/><path d="M40.5 410.5h2.2M211.5 410.5h-2.2" stroke="#fff" stroke-opacity="0.85" stroke-width="1.0"/>
<rect x="224.5" y="410.5" width="172.0" height="349.0" fill="url(#gBox)"/><path d="M224.5 410.5V759.5H396.5V410.5" fill="none" stroke="#fff" stroke-opacity="0.85" stroke-width="1.0" stroke-dasharray="3.2 2.6"/><path d="M224.5 410.5h2.2M396.5 410.5h-2.2" stroke="#fff" stroke-opacity="0.85" stroke-width="1.0"/>
<rect x="457.7" y="518.9" width="197.50000000000006" height="108.5" fill="url(#gPoly)"/><path d="M457.7 518.9V627.4H655.2V518.9" fill="none" stroke="#fff" stroke-opacity="0.85" stroke-width="1.0" stroke-dasharray="3.2 2.6"/><path d="M457.7 518.9h2.2M655.2 518.9h-2.2" stroke="#fff" stroke-opacity="0.85" stroke-width="1.0"/>
<path d="M824.4 410.5V759.5H1016.2V410.5" fill="none" stroke="#fff" stroke-opacity="0.6" stroke-width="0.8" stroke-dasharray="3.2 2.6"/><path d="M824.4 410.5h2.2M1016.2 410.5h-2.2" stroke="#fff" stroke-opacity="0.6" stroke-width="0.8"/>
<rect x="21.6" y="879" width="1402.6" height="176" rx="9" fill="url(#gBot)"/>
<rect x="22.1" y="879.5" width="1401.6" height="175" rx="8.5" fill="none" stroke="url(#gBotB)" stroke-width="1.2"/>
<path d="M473.8 886V1041M911.9 886V1041" stroke="#fff" stroke-opacity=".5" stroke-width=".9" stroke-dasharray="2.6 2.2"/>
<rect x="21.4" y="1051.9" width="1402.8" height="109.8" rx="27" fill="url(#gBan)" stroke="#F9C9CF" stroke-opacity=".85" stroke-width="1.2"/>
<path d="M918.8 137.2L932.8 161.2H904.8Z" fill="#E9291B" stroke="#E9291B" stroke-width="2.4" stroke-linejoin="round"/><path d="M916.8 143.0H920.8L920.3 154.6H917.3Z" fill="#fff"/><rect x="916.9" y="156.0" width="3.8" height="3.6" rx=".6" fill="#fff"/>
<path d="M918.8 173.2L932.8 197.2H904.8Z" fill="#E9291B" stroke="#E9291B" stroke-width="2.4" stroke-linejoin="round"/><path d="M916.8 179.0H920.8L920.3 190.6H917.3Z" fill="#fff"/><rect x="916.9" y="192.0" width="3.8" height="3.6" rx=".6" fill="#fff"/>
<path d="M918.8 209.2L932.8 233.2H904.8Z" fill="#E9291B" stroke="#E9291B" stroke-width="2.4" stroke-linejoin="round"/><path d="M916.8 215.0H920.8L920.3 226.6H917.3Z" fill="#fff"/><rect x="916.9" y="228.0" width="3.8" height="3.6" rx=".6" fill="#fff"/>
<path d="M626.4 204.9H634.6V251.6Q629.4 251.8 626.4 256.6Z" fill="#A9E7E0"/><path d="M634.4 204.9H642.6V256.6Q639.6 251.8 634.4 251.6Z" fill="#6DD3C8"/><rect x="654.4" y="226.0" width="14.8" height="2.7" fill="#fff"/><rect x="654.4" y="232.4" width="14.8" height="2.7" fill="#fff"/><polygon points="680.3,210.8 707.2,195.8 733,210.8 733,244.2 707.2,259.7 680.3,244.2" fill="#2DB3F5"/><polygon points="732.6,210.8 760,201.3 778,227.2 760,253 732.6,244.2" fill="#31B6F6"/><polygon points="731.8,211 734,211 733.6,244.2 731.8,244.2" fill="#1F9BE0" fill-opacity=".6"/><text x="707.2" y="228.4" font-size="8.9" text-anchor="middle" fill="#0A2A50" stroke="#0A2A50" stroke-width=".2">Nucleoside</text><text x="707.2" y="240.6" font-size="8.9" text-anchor="middle" fill="#0A2A50" stroke="#0A2A50" stroke-width=".2">base</text><path d="M760 252.5V270" stroke="#EBD0F0" stroke-width="1"/><polygon points="775.8,261.2 794.2,271.3 788.3,290.2 764.2,290.2 757.5,271.3" fill="#F6932B"/><text x="775.6" y="279.4" font-size="8.8" text-anchor="middle" fill="#1A0D00" stroke="#1A0D00" stroke-width=".15">Ribose</text><path d="M791.8 270V257.5H862" fill="none" stroke="#EBD0F0" stroke-width="1"/><defs><radialGradient id="gP" cx=".45" cy=".4" r=".65"><stop offset="0" stop-color="#58E028"/><stop offset="1" stop-color="#36C21A"/></radialGradient></defs><circle cx="808.0" cy="257.5" r="12.5" fill="url(#gP)"/><text x="808.0" y="262.6" font-size="14.2" text-anchor="middle" fill="#0A1A05" stroke="#0A1A05" stroke-width=".3">P</text><circle cx="835.3" cy="257.5" r="12.5" fill="url(#gP)"/><text x="835.3" y="262.6" font-size="14.2" text-anchor="middle" fill="#0A1A05" stroke="#0A1A05" stroke-width=".3">P</text><circle cx="862.5" cy="257.5" r="12.5" fill="url(#gP)"/><text x="862.5" y="262.6" font-size="14.2" text-anchor="middle" fill="#0A1A05" stroke="#0A1A05" stroke-width=".3">P</text>
<path d="M734.2 62.0H756.5V55.3L771.2 68L756.5 80.7V73.9H734.2Z" fill="#B3CBC0"/>
<use href="#dnaArt"/><g transform="translate(726.8 906.3) scale(0.513 0.533)"><g clip-path="url(#cSmall)"><use href="#dnaArt"/></g></g>
<g transform="translate(0 0)"><path d="M79.0 432.6L79.0 439.2" stroke="#E8D8F0" stroke-width="0.75" fill="none"/><path d="M112.5 472.4L123.3 482.8" stroke="#C9A2D6" stroke-width="0.75" fill="none"/><path d="M169.5 482.8L179.6 472.2" stroke="#C9A2D6" stroke-width="0.75" fill="none"/><polygon points="79.0,439.2 94.6,447.7 94.6,466.8 79.0,475.6 62.5,466.3 62.5,448.2" fill="#6BA8F2" stroke="#A6CBF8" stroke-width="0.9" stroke-linejoin="round"/><polygon points="94.6,447.7 112.5,442.3 123.3,457.1 112.5,472.4 94.6,466.8" fill="#6BA8F2" stroke="#A6CBF8" stroke-width="0.9" stroke-linejoin="round"/><path d="M91.1 449.8L91.1 464.7" stroke="#A6CBF8" stroke-width=".7" fill="none"/><path d="M78.9 471.6L66.1 464.3" stroke="#A6CBF8" stroke-width=".7" fill="none"/><path d="M66.1 450.2L78.9 443.2" stroke="#A6CBF8" stroke-width=".7" fill="none"/><path d="M111.4 445.6L119.8 457.1" stroke="#A6CBF8" stroke-width=".7" fill="none"/><polygon points="145.8,467.3 169.5,482.8 160.2,500.1 131.4,500.1 123.3,482.8" fill="#F9A11F" stroke="#F9A11F" stroke-width="0.5" stroke-linejoin="round"/><text x="78.2" y="459.0" font-size="6.3" text-anchor="middle" fill="#0A2346" stroke="#0A2346" stroke-width="0.22">Adenine</text><text x="145.8" y="487.9" font-size="6.3" text-anchor="middle" fill="#1A0D00" stroke="#1A0D00" stroke-width="0.22">Ribose</text><text x="80.6" y="430.2" font-size="6.4" font-weight="bold" text-anchor="middle" fill="#fff">NH<tspan font-size="3.6" dy="1.6">2</tspan></text><circle cx="183.8" cy="467.6" r="6.1" fill="#1E8C1E" stroke="#62C862" stroke-width=".8"/><text x="183.8" y="470.2" font-size="7.2" font-weight="bold" text-anchor="middle" fill="#fff">P</text></g>
<g transform="translate(0 0)"><path d="M100.3 506.6L100.3 515.3M102.3 506.6L102.3 515.3" stroke="#E8D8F0" stroke-width=".7" fill="none"/><path d="M78.7 548.0L86.0 543.8M77.7 546.2L85.0 542.0" stroke="#E8D8F0" stroke-width=".7" fill="none"/><path d="M101.3 551.8L112.0 562.6" stroke="#C9A2D6" stroke-width="0.75" fill="none"/><path d="M158.0 562.6L168.2 551.4" stroke="#C9A2D6" stroke-width="0.75" fill="none"/><polygon points="101.3,515.3 117.6,524.3 117.6,542.9 101.3,551.8 85.5,542.9 85.5,524.3" fill="#DA64DF" stroke="#EDA6EE" stroke-width="0.9" stroke-linejoin="round"/><path d="M114.1 526.3L114.1 540.9" stroke="#EDA6EE" stroke-width=".7" fill="none"/><path d="M101.3 547.8L89.0 540.9" stroke="#EDA6EE" stroke-width=".7" fill="none"/><path d="M89.0 526.3L101.3 519.3" stroke="#EDA6EE" stroke-width=".7" fill="none"/><polygon points="134.8,546.4 158.0,562.6 148.3,579.5 120.4,579.5 112.0,562.6" fill="#F9A11F" stroke="#F9A11F" stroke-width="0.5" stroke-linejoin="round"/><text x="101.3" y="534.9" font-size="6.3" text-anchor="middle" fill="#3A0A40" stroke="#3A0A40" stroke-width="0.22">Uracil</text><text x="136.0" y="566.5" font-size="6.3" text-anchor="middle" fill="#1A0D00" stroke="#1A0D00" stroke-width="0.22">Ribose</text><circle cx="101.3" cy="504.2" r="1.75" fill="none" stroke="#fff" stroke-width=".95"/><circle cx="76.0" cy="548.2" r="1.75" fill="none" stroke="#fff" stroke-width=".95"/><circle cx="172.5" cy="546.7" r="6.1" fill="#1E8C1E" stroke="#62C862" stroke-width=".8"/><text x="172.5" y="549.2" font-size="7.2" font-weight="bold" text-anchor="middle" fill="#fff">P</text></g>
<g transform="translate(0 0)"><path d="M85.8 590.4L85.8 598.4" stroke="#E8D8F0" stroke-width="0.75" fill="none"/><path d="M69.2 625.5L64.4 629.2" stroke="#E8D8F0" stroke-width="0.75" fill="none"/><path d="M119.3 631.2L130.1 642.4" stroke="#C9A2D6" stroke-width="0.75" fill="none"/><path d="M176.2 642.4L186.3 631.0" stroke="#C9A2D6" stroke-width="0.75" fill="none"/><polygon points="85.8,598.4 101.3,606.9 101.3,625.5 85.8,634.6 69.2,625.5 69.2,606.9" fill="#3A8BEA" stroke="#86B9F3" stroke-width="0.9" stroke-linejoin="round"/><polygon points="101.3,606.9 119.3,601.3 130.9,616.0 119.3,631.2 101.3,625.5" fill="#3A8BEA" stroke="#86B9F3" stroke-width="0.9" stroke-linejoin="round"/><path d="M97.8 609.0L97.8 623.5" stroke="#86B9F3" stroke-width=".7" fill="none"/><path d="M85.7 630.6L72.8 623.5" stroke="#86B9F3" stroke-width=".7" fill="none"/><path d="M72.8 609.0L85.7 602.3" stroke="#86B9F3" stroke-width=".7" fill="none"/><path d="M118.2 604.6L127.3 616.0" stroke="#86B9F3" stroke-width=".7" fill="none"/><polygon points="152.9,626.6 176.2,642.4 166.6,659.3 139.0,659.3 130.1,642.4" fill="#F9A11F" stroke="#F9A11F" stroke-width="0.5" stroke-linejoin="round"/><text x="84.4" y="617.8" font-size="6.3" text-anchor="middle" fill="#06183A" stroke="#06183A" stroke-width="0.22">Guanine</text><text x="152.2" y="646.6" font-size="6.3" text-anchor="middle" fill="#1A0D00" stroke="#1A0D00" stroke-width="0.22">Ribose</text><circle cx="85.8" cy="587.9" r="1.75" fill="none" stroke="#fff" stroke-width=".95"/><text x="59.4" y="634.7" font-size="6.4" font-weight="bold" text-anchor="middle" fill="#fff">NH<tspan font-size="3.6" dy="1.6">2</tspan></text><circle cx="190.6" cy="626.1" r="6.1" fill="#1E8C1E" stroke="#62C862" stroke-width=".8"/><text x="190.6" y="628.6" font-size="7.2" font-weight="bold" text-anchor="middle" fill="#fff">P</text></g>
<g transform="translate(0 0)"><path d="M101.3 670.6L101.3 676.5" stroke="#E8D8F0" stroke-width="0.75" fill="none"/><path d="M78.7 709.0L86.0 704.8M77.7 707.2L85.0 703.0" stroke="#E8D8F0" stroke-width=".7" fill="none"/><path d="M101.3 713.4L111.5 724.2" stroke="#C9A2D6" stroke-width="0.75" fill="none"/><path d="M157.6 724.2L168.2 713.0" stroke="#C9A2D6" stroke-width="0.75" fill="none"/><polygon points="101.3,676.5 117.6,685.3 117.6,703.9 101.3,713.4 85.5,703.9 85.5,685.3" fill="#C07CF8" stroke="#DDB4FB" stroke-width="0.9" stroke-linejoin="round"/><path d="M114.1 687.4L114.1 701.9" stroke="#DDB4FB" stroke-width=".7" fill="none"/><path d="M101.3 709.3L89.0 701.9" stroke="#DDB4FB" stroke-width=".7" fill="none"/><path d="M89.0 687.4L101.3 680.5" stroke="#DDB4FB" stroke-width=".7" fill="none"/><polygon points="134.5,708.3 157.6,724.2 148.0,740.8 120.4,740.8 111.5,724.2" fill="#F9A11F" stroke="#F9A11F" stroke-width="0.5" stroke-linejoin="round"/><text x="100.6" y="697.0" font-size="6.3" text-anchor="middle" fill="#2A0A55" stroke="#2A0A55" stroke-width="0.22">Cytosine</text><text x="135.2" y="728.6" font-size="6.3" text-anchor="middle" fill="#1A0D00" stroke="#1A0D00" stroke-width="0.22">Ribose</text><text x="101.0" y="668.8" font-size="6.4" font-weight="bold" text-anchor="middle" fill="#fff">NH<tspan font-size="3.6" dy="1.6">2</tspan></text><circle cx="76.0" cy="709.1" r="1.75" fill="none" stroke="#fff" stroke-width=".95"/><circle cx="172.5" cy="708.3" r="6.1" fill="#1E8C1E" stroke="#62C862" stroke-width=".8"/><text x="172.5" y="710.8" font-size="7.2" font-weight="bold" text-anchor="middle" fill="#fff">P</text></g>
<g transform="translate(177.3 0)"><path d="M79.0 432.6L79.0 439.2" stroke="#E8D8F0" stroke-width="0.75" fill="none"/><path d="M112.5 472.4L123.3 482.8" stroke="#C9A2D6" stroke-width="0.75" fill="none"/><path d="M169.5 482.8L179.6 472.2" stroke="#C9A2D6" stroke-width="0.75" fill="none"/><polygon points="79.0,439.2 94.6,447.7 94.6,466.8 79.0,475.6 62.5,466.3 62.5,448.2" fill="#6BA8F2" stroke="#A6CBF8" stroke-width="0.9" stroke-linejoin="round"/><polygon points="94.6,447.7 112.5,442.3 123.3,457.1 112.5,472.4 94.6,466.8" fill="#6BA8F2" stroke="#A6CBF8" stroke-width="0.9" stroke-linejoin="round"/><path d="M91.1 449.8L91.1 464.7" stroke="#A6CBF8" stroke-width=".7" fill="none"/><path d="M78.9 471.6L66.1 464.3" stroke="#A6CBF8" stroke-width=".7" fill="none"/><path d="M66.1 450.2L78.9 443.2" stroke="#A6CBF8" stroke-width=".7" fill="none"/><path d="M111.4 445.6L119.8 457.1" stroke="#A6CBF8" stroke-width=".7" fill="none"/><polygon points="145.8,467.3 169.5,482.8 160.2,500.1 131.4,500.1 123.3,482.8" fill="#F9A11F" stroke="#F9A11F" stroke-width="0.5" stroke-linejoin="round"/><text x="78.2" y="459.0" font-size="6.3" text-anchor="middle" fill="#0A2346" stroke="#0A2346" stroke-width="0.22">Adenine</text><text x="145.8" y="487.9" font-size="6.3" text-anchor="middle" fill="#1A0D00" stroke="#1A0D00" stroke-width="0.22">Ribose</text><text x="80.6" y="430.2" font-size="6.4" font-weight="bold" text-anchor="middle" fill="#fff">NH<tspan font-size="3.6" dy="1.6">2</tspan></text><circle cx="183.8" cy="467.6" r="6.1" fill="#1E8C1E" stroke="#62C862" stroke-width=".8"/><text x="183.8" y="470.2" font-size="7.2" font-weight="bold" text-anchor="middle" fill="#fff">P</text><path d="M189.8 467.6L194.5 467.6" stroke="#8FD48F" stroke-width="0.8" fill="none"/><circle cx="200.5" cy="467.6" r="6.1" fill="#1E8C1E" stroke="#62C862" stroke-width=".8"/><text x="200.5" y="470.2" font-size="7.2" font-weight="bold" text-anchor="middle" fill="#fff">P</text></g>
<g transform="translate(186.4 0)"><path d="M100.3 506.6L100.3 515.3M102.3 506.6L102.3 515.3" stroke="#E8D8F0" stroke-width=".7" fill="none"/><path d="M78.7 548.0L86.0 543.8M77.7 546.2L85.0 542.0" stroke="#E8D8F0" stroke-width=".7" fill="none"/><path d="M101.3 551.8L112.0 562.6" stroke="#C9A2D6" stroke-width="0.75" fill="none"/><path d="M158.0 562.6L168.2 551.4" stroke="#C9A2D6" stroke-width="0.75" fill="none"/><polygon points="101.3,515.3 117.6,524.3 117.6,542.9 101.3,551.8 85.5,542.9 85.5,524.3" fill="#DA64DF" stroke="#EDA6EE" stroke-width="0.9" stroke-linejoin="round"/><path d="M114.1 526.3L114.1 540.9" stroke="#EDA6EE" stroke-width=".7" fill="none"/><path d="M101.3 547.8L89.0 540.9" stroke="#EDA6EE" stroke-width=".7" fill="none"/><path d="M89.0 526.3L101.3 519.3" stroke="#EDA6EE" stroke-width=".7" fill="none"/><polygon points="134.8,546.4 158.0,562.6 148.3,579.5 120.4,579.5 112.0,562.6" fill="#F9A11F" stroke="#F9A11F" stroke-width="0.5" stroke-linejoin="round"/><text x="101.3" y="534.9" font-size="6.3" text-anchor="middle" fill="#3A0A40" stroke="#3A0A40" stroke-width="0.22">Uracil</text><text x="136.0" y="566.5" font-size="6.3" text-anchor="middle" fill="#1A0D00" stroke="#1A0D00" stroke-width="0.22">Ribose</text><circle cx="101.3" cy="504.2" r="1.75" fill="none" stroke="#fff" stroke-width=".95"/><circle cx="76.0" cy="548.2" r="1.75" fill="none" stroke="#fff" stroke-width=".95"/><circle cx="172.5" cy="546.7" r="6.1" fill="#1E8C1E" stroke="#62C862" stroke-width=".8"/><text x="172.5" y="549.2" font-size="7.2" font-weight="bold" text-anchor="middle" fill="#fff">P</text><path d="M178.5 546.7L183.2 546.7" stroke="#8FD48F" stroke-width="0.8" fill="none"/><circle cx="189.2" cy="546.7" r="6.1" fill="#1E8C1E" stroke="#62C862" stroke-width=".8"/><text x="189.2" y="549.2" font-size="7.2" font-weight="bold" text-anchor="middle" fill="#fff">P</text></g>
<g transform="translate(177.5 0)"><path d="M85.8 590.4L85.8 598.4" stroke="#E8D8F0" stroke-width="0.75" fill="none"/><path d="M69.2 625.5L64.4 629.2" stroke="#E8D8F0" stroke-width="0.75" fill="none"/><path d="M119.3 631.2L130.1 642.4" stroke="#C9A2D6" stroke-width="0.75" fill="none"/><path d="M176.2 642.4L186.3 631.0" stroke="#C9A2D6" stroke-width="0.75" fill="none"/><polygon points="85.8,598.4 101.3,606.9 101.3,625.5 85.8,634.6 69.2,625.5 69.2,606.9" fill="#3A8BEA" stroke="#86B9F3" stroke-width="0.9" stroke-linejoin="round"/><polygon points="101.3,606.9 119.3,601.3 130.9,616.0 119.3,631.2 101.3,625.5" fill="#3A8BEA" stroke="#86B9F3" stroke-width="0.9" stroke-linejoin="round"/><path d="M97.8 609.0L97.8 623.5" stroke="#86B9F3" stroke-width=".7" fill="none"/><path d="M85.7 630.6L72.8 623.5" stroke="#86B9F3" stroke-width=".7" fill="none"/><path d="M72.8 609.0L85.7 602.3" stroke="#86B9F3" stroke-width=".7" fill="none"/><path d="M118.2 604.6L127.3 616.0" stroke="#86B9F3" stroke-width=".7" fill="none"/><polygon points="152.9,626.6 176.2,642.4 166.6,659.3 139.0,659.3 130.1,642.4" fill="#F9A11F" stroke="#F9A11F" stroke-width="0.5" stroke-linejoin="round"/><text x="84.4" y="617.8" font-size="6.3" text-anchor="middle" fill="#06183A" stroke="#06183A" stroke-width="0.22">Guanine</text><text x="152.2" y="646.6" font-size="6.3" text-anchor="middle" fill="#1A0D00" stroke="#1A0D00" stroke-width="0.22">Ribose</text><circle cx="85.8" cy="587.9" r="1.75" fill="none" stroke="#fff" stroke-width=".95"/><text x="59.4" y="634.7" font-size="6.4" font-weight="bold" text-anchor="middle" fill="#fff">NH<tspan font-size="3.6" dy="1.6">2</tspan></text><circle cx="190.6" cy="626.1" r="6.1" fill="#1E8C1E" stroke="#62C862" stroke-width=".8"/><text x="190.6" y="628.6" font-size="7.2" font-weight="bold" text-anchor="middle" fill="#fff">P</text><path d="M196.6 626.1L201.3 626.1" stroke="#8FD48F" stroke-width="0.8" fill="none"/><circle cx="207.3" cy="626.1" r="6.1" fill="#1E8C1E" stroke="#62C862" stroke-width=".8"/><text x="207.3" y="628.6" font-size="7.2" font-weight="bold" text-anchor="middle" fill="#fff">P</text></g>
<g transform="translate(176.3 0)"><path d="M101.3 670.6L101.3 676.5" stroke="#E8D8F0" stroke-width="0.75" fill="none"/><path d="M78.7 709.0L86.0 704.8M77.7 707.2L85.0 703.0" stroke="#E8D8F0" stroke-width=".7" fill="none"/><path d="M101.3 713.4L111.5 724.2" stroke="#C9A2D6" stroke-width="0.75" fill="none"/><path d="M157.6 724.2L168.2 713.0" stroke="#C9A2D6" stroke-width="0.75" fill="none"/><polygon points="101.3,676.5 117.6,685.3 117.6,703.9 101.3,713.4 85.5,703.9 85.5,685.3" fill="#C07CF8" stroke="#DDB4FB" stroke-width="0.9" stroke-linejoin="round"/><path d="M114.1 687.4L114.1 701.9" stroke="#DDB4FB" stroke-width=".7" fill="none"/><path d="M101.3 709.3L89.0 701.9" stroke="#DDB4FB" stroke-width=".7" fill="none"/><path d="M89.0 687.4L101.3 680.5" stroke="#DDB4FB" stroke-width=".7" fill="none"/><polygon points="134.5,708.3 157.6,724.2 148.0,740.8 120.4,740.8 111.5,724.2" fill="#F9A11F" stroke="#F9A11F" stroke-width="0.5" stroke-linejoin="round"/><text x="100.6" y="697.0" font-size="6.3" text-anchor="middle" fill="#2A0A55" stroke="#2A0A55" stroke-width="0.22">Cytosine</text><text x="135.2" y="728.6" font-size="6.3" text-anchor="middle" fill="#1A0D00" stroke="#1A0D00" stroke-width="0.22">Ribose</text><text x="101.0" y="668.8" font-size="6.4" font-weight="bold" text-anchor="middle" fill="#fff">NH<tspan font-size="3.6" dy="1.6">2</tspan></text><circle cx="76.0" cy="709.1" r="1.75" fill="none" stroke="#fff" stroke-width=".95"/><circle cx="172.5" cy="708.3" r="6.1" fill="#1E8C1E" stroke="#62C862" stroke-width=".8"/><text x="172.5" y="710.8" font-size="7.2" font-weight="bold" text-anchor="middle" fill="#fff">P</text><path d="M178.5 708.3L183.2 708.3" stroke="#8FD48F" stroke-width="0.8" fill="none"/><circle cx="189.2" cy="708.3" r="6.1" fill="#1E8C1E" stroke="#62C862" stroke-width=".8"/><text x="189.2" y="710.8" font-size="7.2" font-weight="bold" text-anchor="middle" fill="#fff">P</text></g>
<g transform="translate(777.7 0)"><path d="M79.0 432.6L79.0 439.2" stroke="#E8D8F0" stroke-width="0.75" fill="none"/><path d="M112.5 472.4L123.3 482.8" stroke="#C9A2D6" stroke-width="0.75" fill="none"/><path d="M169.5 482.8L179.6 472.2" stroke="#C9A2D6" stroke-width="0.75" fill="none"/><polygon points="79.0,439.2 94.6,447.7 94.6,466.8 79.0,475.6 62.5,466.3 62.5,448.2" fill="#6BA8F2" stroke="#A6CBF8" stroke-width="0.9" stroke-linejoin="round"/><polygon points="94.6,447.7 112.5,442.3 123.3,457.1 112.5,472.4 94.6,466.8" fill="#6BA8F2" stroke="#A6CBF8" stroke-width="0.9" stroke-linejoin="round"/><path d="M91.1 449.8L91.1 464.7" stroke="#A6CBF8" stroke-width=".7" fill="none"/><path d="M78.9 471.6L66.1 464.3" stroke="#A6CBF8" stroke-width=".7" fill="none"/><path d="M66.1 450.2L78.9 443.2" stroke="#A6CBF8" stroke-width=".7" fill="none"/><path d="M111.4 445.6L119.8 457.1" stroke="#A6CBF8" stroke-width=".7" fill="none"/><polygon points="145.8,467.3 169.5,482.8 160.2,500.1 131.4,500.1 123.3,482.8" fill="#F9A11F" stroke="#F9A11F" stroke-width="0.5" stroke-linejoin="round"/><text x="78.2" y="459.0" font-size="6.3" text-anchor="middle" fill="#0A2346" stroke="#0A2346" stroke-width="0.22">Adenine</text><text x="145.8" y="487.9" font-size="6.3" text-anchor="middle" fill="#1A0D00" stroke="#1A0D00" stroke-width="0.22">Ribose</text><text x="80.6" y="430.2" font-size="6.4" font-weight="bold" text-anchor="middle" fill="#fff">NH<tspan font-size="3.6" dy="1.6">2</tspan></text><circle cx="183.8" cy="467.6" r="6.1" fill="#1E8C1E" stroke="#62C862" stroke-width=".8"/><text x="183.8" y="470.2" font-size="7.2" font-weight="bold" text-anchor="middle" fill="#fff">P</text><path d="M189.8 467.6L194.5 467.6" stroke="#8FD48F" stroke-width="0.8" fill="none"/><circle cx="200.5" cy="467.6" r="6.1" fill="#1E8C1E" stroke="#62C862" stroke-width=".8"/><text x="200.5" y="470.2" font-size="7.2" font-weight="bold" text-anchor="middle" fill="#fff">P</text><path d="M206.5 467.6L211.2 467.6" stroke="#8FD48F" stroke-width="0.8" fill="none"/><circle cx="217.2" cy="467.6" r="6.1" fill="#1E8C1E" stroke="#62C862" stroke-width=".8"/><text x="217.2" y="470.2" font-size="7.2" font-weight="bold" text-anchor="middle" fill="#fff">P</text></g>
<g transform="translate(777.7 0)"><path d="M100.3 506.6L100.3 515.3M102.3 506.6L102.3 515.3" stroke="#E8D8F0" stroke-width=".7" fill="none"/><path d="M78.7 548.0L86.0 543.8M77.7 546.2L85.0 542.0" stroke="#E8D8F0" stroke-width=".7" fill="none"/><path d="M101.3 551.8L112.0 562.6" stroke="#C9A2D6" stroke-width="0.75" fill="none"/><path d="M158.0 562.6L168.2 551.4" stroke="#C9A2D6" stroke-width="0.75" fill="none"/><polygon points="101.3,515.3 117.6,524.3 117.6,542.9 101.3,551.8 85.5,542.9 85.5,524.3" fill="#DA64DF" stroke="#EDA6EE" stroke-width="0.9" stroke-linejoin="round"/><path d="M114.1 526.3L114.1 540.9" stroke="#EDA6EE" stroke-width=".7" fill="none"/><path d="M101.3 547.8L89.0 540.9" stroke="#EDA6EE" stroke-width=".7" fill="none"/><path d="M89.0 526.3L101.3 519.3" stroke="#EDA6EE" stroke-width=".7" fill="none"/><polygon points="134.8,546.4 158.0,562.6 148.3,579.5 120.4,579.5 112.0,562.6" fill="#F9A11F" stroke="#F9A11F" stroke-width="0.5" stroke-linejoin="round"/><text x="101.3" y="534.9" font-size="6.3" text-anchor="middle" fill="#3A0A40" stroke="#3A0A40" stroke-width="0.22">Uracil</text><text x="136.0" y="566.5" font-size="6.3" text-anchor="middle" fill="#1A0D00" stroke="#1A0D00" stroke-width="0.22">Ribose</text><circle cx="101.3" cy="504.2" r="1.75" fill="none" stroke="#fff" stroke-width=".95"/><circle cx="76.0" cy="548.2" r="1.75" fill="none" stroke="#fff" stroke-width=".95"/><circle cx="172.5" cy="546.7" r="6.1" fill="#1E8C1E" stroke="#62C862" stroke-width=".8"/><text x="172.5" y="549.2" font-size="7.2" font-weight="bold" text-anchor="middle" fill="#fff">P</text><path d="M178.5 546.7L183.2 546.7" stroke="#8FD48F" stroke-width="0.8" fill="none"/><circle cx="189.2" cy="546.7" r="6.1" fill="#1E8C1E" stroke="#62C862" stroke-width=".8"/><text x="189.2" y="549.2" font-size="7.2" font-weight="bold" text-anchor="middle" fill="#fff">P</text><path d="M195.2 546.7L199.9 546.7" stroke="#8FD48F" stroke-width="0.8" fill="none"/><circle cx="205.9" cy="546.7" r="6.1" fill="#1E8C1E" stroke="#62C862" stroke-width=".8"/><text x="205.9" y="549.2" font-size="7.2" font-weight="bold" text-anchor="middle" fill="#fff">P</text></g>
<g transform="translate(778.8 0)"><path d="M85.8 590.4L85.8 598.4" stroke="#E8D8F0" stroke-width="0.75" fill="none"/><path d="M69.2 625.5L64.4 629.2" stroke="#E8D8F0" stroke-width="0.75" fill="none"/><path d="M119.3 631.2L130.1 642.4" stroke="#C9A2D6" stroke-width="0.75" fill="none"/><path d="M176.2 642.4L186.3 631.0" stroke="#C9A2D6" stroke-width="0.75" fill="none"/><polygon points="85.8,598.4 101.3,606.9 101.3,625.5 85.8,634.6 69.2,625.5 69.2,606.9" fill="#3A8BEA" stroke="#86B9F3" stroke-width="0.9" stroke-linejoin="round"/><polygon points="101.3,606.9 119.3,601.3 130.9,616.0 119.3,631.2 101.3,625.5" fill="#3A8BEA" stroke="#86B9F3" stroke-width="0.9" stroke-linejoin="round"/><path d="M97.8 609.0L97.8 623.5" stroke="#86B9F3" stroke-width=".7" fill="none"/><path d="M85.7 630.6L72.8 623.5" stroke="#86B9F3" stroke-width=".7" fill="none"/><path d="M72.8 609.0L85.7 602.3" stroke="#86B9F3" stroke-width=".7" fill="none"/><path d="M118.2 604.6L127.3 616.0" stroke="#86B9F3" stroke-width=".7" fill="none"/><polygon points="152.9,626.6 176.2,642.4 166.6,659.3 139.0,659.3 130.1,642.4" fill="#F9A11F" stroke="#F9A11F" stroke-width="0.5" stroke-linejoin="round"/><text x="84.4" y="617.8" font-size="6.3" text-anchor="middle" fill="#06183A" stroke="#06183A" stroke-width="0.22">Guanine</text><text x="152.2" y="646.6" font-size="6.3" text-anchor="middle" fill="#1A0D00" stroke="#1A0D00" stroke-width="0.22">Ribose</text><circle cx="85.8" cy="587.9" r="1.75" fill="none" stroke="#fff" stroke-width=".95"/><text x="59.4" y="634.7" font-size="6.4" font-weight="bold" text-anchor="middle" fill="#fff">NH<tspan font-size="3.6" dy="1.6">2</tspan></text><circle cx="190.6" cy="626.1" r="6.1" fill="#1E8C1E" stroke="#62C862" stroke-width=".8"/><text x="190.6" y="628.6" font-size="7.2" font-weight="bold" text-anchor="middle" fill="#fff">P</text><path d="M196.6 626.1L201.3 626.1" stroke="#8FD48F" stroke-width="0.8" fill="none"/><circle cx="207.3" cy="626.1" r="6.1" fill="#1E8C1E" stroke="#62C862" stroke-width=".8"/><text x="207.3" y="628.6" font-size="7.2" font-weight="bold" text-anchor="middle" fill="#fff">P</text><path d="M213.3 626.1L218.0 626.1" stroke="#8FD48F" stroke-width="0.8" fill="none"/><circle cx="224.0" cy="626.1" r="6.1" fill="#1E8C1E" stroke="#62C862" stroke-width=".8"/><text x="224.0" y="628.6" font-size="7.2" font-weight="bold" text-anchor="middle" fill="#fff">P</text></g>
<g transform="translate(777.5 0)"><path d="M101.3 670.6L101.3 676.5" stroke="#E8D8F0" stroke-width="0.75" fill="none"/><path d="M78.7 709.0L86.0 704.8M77.7 707.2L85.0 703.0" stroke="#E8D8F0" stroke-width=".7" fill="none"/><path d="M101.3 713.4L111.5 724.2" stroke="#C9A2D6" stroke-width="0.75" fill="none"/><path d="M157.6 724.2L168.2 713.0" stroke="#C9A2D6" stroke-width="0.75" fill="none"/><polygon points="101.3,676.5 117.6,685.3 117.6,703.9 101.3,713.4 85.5,703.9 85.5,685.3" fill="#C07CF8" stroke="#DDB4FB" stroke-width="0.9" stroke-linejoin="round"/><path d="M114.1 687.4L114.1 701.9" stroke="#DDB4FB" stroke-width=".7" fill="none"/><path d="M101.3 709.3L89.0 701.9" stroke="#DDB4FB" stroke-width=".7" fill="none"/><path d="M89.0 687.4L101.3 680.5" stroke="#DDB4FB" stroke-width=".7" fill="none"/><polygon points="134.5,708.3 157.6,724.2 148.0,740.8 120.4,740.8 111.5,724.2" fill="#F9A11F" stroke="#F9A11F" stroke-width="0.5" stroke-linejoin="round"/><text x="100.6" y="697.0" font-size="6.3" text-anchor="middle" fill="#2A0A55" stroke="#2A0A55" stroke-width="0.22">Cytosine</text><text x="135.2" y="728.6" font-size="6.3" text-anchor="middle" fill="#1A0D00" stroke="#1A0D00" stroke-width="0.22">Ribose</text><text x="101.0" y="668.8" font-size="6.4" font-weight="bold" text-anchor="middle" fill="#fff">NH<tspan font-size="3.6" dy="1.6">2</tspan></text><circle cx="76.0" cy="709.1" r="1.75" fill="none" stroke="#fff" stroke-width=".95"/><circle cx="172.5" cy="708.3" r="6.1" fill="#1E8C1E" stroke="#62C862" stroke-width=".8"/><text x="172.5" y="710.8" font-size="7.2" font-weight="bold" text-anchor="middle" fill="#fff">P</text><path d="M178.5 708.3L183.2 708.3" stroke="#8FD48F" stroke-width="0.8" fill="none"/><circle cx="189.2" cy="708.3" r="6.1" fill="#1E8C1E" stroke="#62C862" stroke-width=".8"/><text x="189.2" y="710.8" font-size="7.2" font-weight="bold" text-anchor="middle" fill="#fff">P</text><path d="M195.2 708.3L199.9 708.3" stroke="#8FD48F" stroke-width="0.8" fill="none"/><circle cx="205.9" cy="708.3" r="6.1" fill="#1E8C1E" stroke="#62C862" stroke-width=".8"/><text x="205.9" y="710.8" font-size="7.2" font-weight="bold" text-anchor="middle" fill="#fff">P</text></g>
<circle cx="426.8" cy="573.5" r="21" fill="#fff"/><rect x="416.0" y="570.9" width="21.6" height="5.2" fill="#E8112D"/><rect x="424.2" y="562.7" width="5.2" height="21.6" fill="#E8112D"/>
<path d="M476.8 575.7H494.6" stroke="#D9BCE2" stroke-width=".9"/><path d="M506.2 575.7H524.2" stroke="#D9BCE2" stroke-width=".9"/><path d="M535.4 575.7H553.2" stroke="#D9BCE2" stroke-width=".9"/><path d="M563.6 575.7H581.4" stroke="#D9BCE2" stroke-width=".9"/><path d="M592.6 575.7H610.6" stroke="#D9BCE2" stroke-width=".9"/><path d="M621.6 575.7H639.0" stroke="#D9BCE2" stroke-width=".9"/><path d="M500.7 552.8V568.6" stroke="#D9BCE2" stroke-width="0.9"/><path d="M558.5 552.8V568.6" stroke="#D9BCE2" stroke-width="0.9"/><path d="M616.0 552.8V568.6" stroke="#D9BCE2" stroke-width="0.9"/><path d="M500.7 583.0V597.0" stroke="#D9BCE2" stroke-width="2.6"/><path d="M557.4 583.0V597.0" stroke="#D9BCE2" stroke-width="0.9"/><path d="M559.6 583.0V597.0" stroke="#D9BCE2" stroke-width="0.9"/><path d="M614.9 583.0V597.0" stroke="#D9BCE2" stroke-width="0.9"/><path d="M617.1 583.0V597.0" stroke="#D9BCE2" stroke-width="0.9"/><path d="M521.6 532Q510.0 575.6 521.6 618.8" fill="none" stroke="#EAD8F0" stroke-width="1"/><path d="M570.6 532Q582.2 575.6 570.6 618.8" fill="none" stroke="#EAD8F0" stroke-width="1"/><text x="579.9" y="617.2" font-size="10.5" font-weight="bold" text-anchor="middle" fill="#fff">n</text><text transform="translate(468.4 580.4) scale(0.9 1)" font-size="13" font-weight="bold" text-anchor="middle" fill="#F6C61A">O</text><rect x="472.9" y="572.0" width="3.8" height="1.2" fill="#F6C61A"/><text transform="translate(500.7 580.4) scale(0.95 1)" font-size="13" font-weight="bold" text-anchor="middle" fill="#E3121F">P</text><text transform="translate(558.5 580.4) scale(0.95 1)" font-size="13" font-weight="bold" text-anchor="middle" fill="#E3121F">P</text><text transform="translate(616.0 580.4) scale(0.95 1)" font-size="13" font-weight="bold" text-anchor="middle" fill="#E3121F">P</text><text transform="translate(529.9 580.4) scale(0.9 1)" font-size="13" font-weight="bold" text-anchor="middle" fill="#F6C61A">O</text><text transform="translate(587.0 580.4) scale(0.9 1)" font-size="13" font-weight="bold" text-anchor="middle" fill="#F6C61A">O</text><text transform="translate(644.6 580.4) scale(0.9 1)" font-size="13" font-weight="bold" text-anchor="middle" fill="#F6C61A">O</text><text transform="translate(497.4 551.4) scale(0.9 1)" font-size="13" font-weight="bold" text-anchor="middle" fill="#F6C61A">O</text><rect x="502.1" y="542.8" width="3.8" height="1.2" fill="#F6C61A"/><text transform="translate(555.2 551.4) scale(0.9 1)" font-size="13" font-weight="bold" text-anchor="middle" fill="#F6C61A">O</text><rect x="559.9" y="542.8" width="3.8" height="1.2" fill="#F6C61A"/><text transform="translate(612.8 551.4) scale(0.9 1)" font-size="13" font-weight="bold" text-anchor="middle" fill="#F6C61A">O</text><rect x="617.5" y="542.8" width="3.8" height="1.2" fill="#F6C61A"/><text transform="translate(500.7 608.7) scale(0.9 1)" font-size="13" font-weight="bold" text-anchor="middle" fill="#F6C61A">O</text><text transform="translate(558.5 608.7) scale(0.9 1)" font-size="13" font-weight="bold" text-anchor="middle" fill="#F6C61A">O</text><text transform="translate(616.2 608.7) scale(0.9 1)" font-size="13" font-weight="bold" text-anchor="middle" fill="#F6C61A">O</text>
<path d="M663.8 567.2H801.6V559L816.8 573.5L801.6 588V579.8H663.8Z" fill="#fff" fill-opacity=".035" stroke="#EBD3EC" stroke-width="1.1" stroke-linejoin="miter"/>
<g><defs>
<linearGradient id="pgO" x1="0" y1="0" x2="1" y2="0"><stop offset="0" stop-color="#FF5A14"/><stop offset=".5" stop-color="#FF9444"/><stop offset="1" stop-color="#FF4E16"/></linearGradient>
<linearGradient id="pgY" x1="0" y1="0" x2="0" y2="1"><stop offset="0" stop-color="#FFD24A"/><stop offset="1" stop-color="#FFB82E"/></linearGradient>
</defs><g transform="translate(768.9 522.0) rotate(119.5)"><rect x="-1.2" y="-6.5" width="37.2" height="12.9" rx="5.1" fill="#150F9C"/><ellipse cx="0.0" cy="0" rx="4.6" ry="8.5" transform="rotate(-24 0.0 0)" fill="#2E28EE" stroke="#1E18C4" stroke-width="1.86"/><ellipse cx="11.6" cy="0" rx="4.6" ry="8.5" transform="rotate(-24 11.6 0)" fill="#2E28EE" stroke="#1E18C4" stroke-width="1.86"/><ellipse cx="23.2" cy="0" rx="4.6" ry="8.5" transform="rotate(-24 23.2 0)" fill="#2E28EE" stroke="#1E18C4" stroke-width="1.86"/><ellipse cx="34.9" cy="0" rx="4.6" ry="8.5" transform="rotate(-24 34.9 0)" fill="#2E28EE" stroke="#1E18C4" stroke-width="1.86"/></g><path d="M757.7 517.4C759.2 517.1 764.1 515.6 766.9 516.0C769.8 516.5 772.7 520.0 774.9 520.0C777.1 520.0 778.4 516.9 780.1 516.0C781.9 515.2 784.1 514.1 785.4 514.7C786.7 515.4 788.3 518.0 788.1 520.0C787.8 522.0 785.9 525.1 784.1 526.6C782.3 528.1 779.0 527.7 777.5 529.2C776.0 530.8 774.4 533.9 774.9 535.8C775.3 537.8 778.2 540.7 780.1 541.1C782.1 541.6 784.8 540.5 786.7 538.5C788.7 536.5 790.6 531.4 792.0 529.2C793.4 527.0 795.1 526.4 795.3 525.3C795.5 524.2 794.8 522.2 793.3 522.6C791.9 523.1 788.7 525.9 786.7 527.9C784.8 529.9 781.9 532.1 781.5 534.5C781.0 536.9 782.8 541.3 784.1 542.4C785.4 543.5 788.5 541.3 789.4 541.1" fill="none" stroke="#F7A89C" stroke-width="1.3" stroke-linecap="round" stroke-linejoin="round" opacity="1"/><path d="M727.4 544.4C728.7 545.2 732.2 548.5 735.3 549.0C738.4 549.6 742.8 549.2 745.8 547.7C748.9 546.2 751.1 542.4 753.7 539.8C756.4 537.2 758.6 533.4 761.7 531.9C764.7 530.3 769.1 530.3 772.2 530.6C775.3 530.8 778.8 532.8 780.1 533.2" fill="none" stroke="#F58EC4" stroke-width="1.3" stroke-linecap="round" stroke-linejoin="round" opacity="1"/><path d="M782.8 491.0C783.7 492.3 787.1 495.8 788.1 498.9C789.0 502.0 789.6 506.6 788.7 509.4C787.8 512.3 783.8 514.9 782.8 516.0" fill="none" stroke="#F7A89C" stroke-width="1.2" stroke-linecap="round" stroke-linejoin="round" opacity="1"/><path d="M739.2 502.8C739.5 504.8 739.7 511.0 740.6 514.7C741.4 518.5 743.2 522.6 744.5 525.3C745.8 527.9 748.5 531.9 748.5 530.6C748.5 529.2 744.7 520.9 744.5 517.4C744.3 513.8 746.7 510.8 747.2 509.4" fill="none" stroke="#F58EC4" stroke-width="1.1" stroke-linecap="round" stroke-linejoin="round" opacity="1"/><path d="M714.8 438.2C713.4 438.2 708.7 436.8 706.2 437.9C703.8 439.0 701.2 441.9 699.9 444.8C698.6 447.7 699.5 452.0 698.6 455.3C697.7 458.6 696.9 462.1 694.6 464.6C692.4 467.0 688.8 467.5 685.1 470.1C681.5 472.8 675.7 477.2 672.6 480.4C669.5 483.7 667.0 487.4 666.7 489.7C666.3 491.9 668.8 493.7 670.4 493.9C671.9 494.1 674.5 492.3 675.9 491.0C677.3 489.6 677.2 486.4 678.5 485.7C679.9 485.0 682.3 485.9 683.8 487.0C685.4 488.1 687.8 490.8 687.8 492.3C687.8 493.8 685.4 496.0 683.8 496.2C682.3 496.5 679.6 495.1 678.5 493.6C677.4 492.1 677.4 488.1 677.2 487.0" fill="none" stroke="#B67AF4" stroke-width="1.4" stroke-linecap="round" stroke-linejoin="round" opacity="1"/><path d="M694.6 464.6C696.1 464.4 701.2 462.6 703.6 463.3C706.0 463.9 707.1 466.1 708.9 468.5C710.6 471.0 711.5 474.9 714.2 477.8C716.8 480.6 721.2 483.5 724.7 485.7C728.2 487.9 733.5 490.1 735.3 491.0" fill="none" stroke="#B67AF4" stroke-width="1.2" stroke-linecap="round" stroke-linejoin="round" opacity="1"/><path d="M639.7 478.3C640.5 478.7 642.8 479.4 644.2 480.4C645.6 481.5 646.7 485.0 648.2 484.6C649.7 484.2 651.8 480.7 653.2 478.0C654.6 475.4 654.8 470.6 656.8 468.8C658.7 467.0 662.2 466.2 665.1 467.2C668.0 468.2 671.7 472.4 674.3 474.9C676.9 477.3 679.5 480.8 680.5 482.0" fill="none" stroke="#FFC944" stroke-width="1.7" stroke-linecap="round" stroke-linejoin="round" opacity="1"/><path d="M680.5 482.0C681.3 483.9 684.5 489.0 685.4 493.6C686.3 498.2 684.9 504.2 685.8 509.4C686.7 514.7 688.1 521.3 691.1 525.3C694.0 529.3 698.9 531.7 703.6 533.5C708.3 535.3 715.6 534.6 719.4 536.1C723.3 537.6 725.5 541.4 726.7 542.4" fill="none" stroke="url(#pgY)" stroke-width="6.2" stroke-linecap="butt" stroke-linejoin="round" opacity="1"/><path d="M722.1 537.2C723.5 537.8 729.8 539.2 730.7 541.1C731.5 543.0 728.5 547.7 727.4 548.4C726.2 549.1 724.3 545.8 723.7 545.3Z" fill="#FFC238"/><g transform="translate(788.7 477.1) rotate(131.0)"><rect x="-1.6" y="-6.3" width="50.4" height="12.5" rx="5.0" fill="#128E92"/><ellipse cx="0.0" cy="0" rx="6.3" ry="8.2" transform="rotate(-24 0.0 0)" fill="#3ADCD0" stroke="#22B4B4" stroke-width="2.52"/><ellipse cx="15.7" cy="0" rx="6.3" ry="8.2" transform="rotate(-24 15.7 0)" fill="#3ADCD0" stroke="#22B4B4" stroke-width="2.52"/><ellipse cx="31.5" cy="0" rx="6.3" ry="8.2" transform="rotate(-24 31.5 0)" fill="#3ADCD0" stroke="#22B4B4" stroke-width="2.52"/><ellipse cx="47.2" cy="0" rx="6.3" ry="8.2" transform="rotate(-24 47.2 0)" fill="#3ADCD0" stroke="#22B4B4" stroke-width="2.52"/></g><path d="M780.8 473.2C782.2 473.3 787.2 472.9 789.4 474.1C791.6 475.3 793.6 478.0 794.0 480.4C794.4 482.8 792.3 487.0 792.0 488.3" fill="none" stroke="#2CC4C4" stroke-width="4.2" stroke-linecap="round" stroke-linejoin="round" opacity="1"/><g transform="translate(727.4 496.2) rotate(13.0)"><rect x="-0.6" y="-4.0" width="31.7" height="8.0" rx="3.1" fill="#B87838"/><ellipse cx="0.0" cy="0" rx="2.4" ry="5.2" transform="rotate(-12 0.0 0)" fill="#F8BC7C" stroke="#DC9C58" stroke-width="0.98"/><ellipse cx="6.1" cy="0" rx="2.4" ry="5.2" transform="rotate(-12 6.1 0)" fill="#F8BC7C" stroke="#DC9C58" stroke-width="0.98"/><ellipse cx="12.2" cy="0" rx="2.4" ry="5.2" transform="rotate(-12 12.2 0)" fill="#F8BC7C" stroke="#DC9C58" stroke-width="0.98"/><ellipse cx="18.3" cy="0" rx="2.4" ry="5.2" transform="rotate(-12 18.3 0)" fill="#F8BC7C" stroke="#DC9C58" stroke-width="0.98"/><ellipse cx="24.4" cy="0" rx="2.4" ry="5.2" transform="rotate(-12 24.4 0)" fill="#F8BC7C" stroke="#DC9C58" stroke-width="0.98"/><ellipse cx="30.5" cy="0" rx="2.4" ry="5.2" transform="rotate(-12 30.5 0)" fill="#F8BC7C" stroke="#DC9C58" stroke-width="0.98"/></g><g transform="translate(702.6 466.2) rotate(64.8)"><rect x="-1.0" y="-6.5" width="73.2" height="12.9" rx="5.1" fill="#A8508C"/><ellipse cx="0.0" cy="0" rx="4.1" ry="8.5" transform="rotate(-24 0.0 0)" fill="#F8B0D8" stroke="#D884B8" stroke-width="1.63"/><ellipse cx="10.2" cy="0" rx="4.1" ry="8.5" transform="rotate(-24 10.2 0)" fill="#F8B0D8" stroke="#D884B8" stroke-width="1.63"/><ellipse cx="20.3" cy="0" rx="4.1" ry="8.5" transform="rotate(-24 20.3 0)" fill="#F8B0D8" stroke="#D884B8" stroke-width="1.63"/><ellipse cx="30.5" cy="0" rx="4.1" ry="8.5" transform="rotate(-24 30.5 0)" fill="#F8B0D8" stroke="#D884B8" stroke-width="1.63"/><ellipse cx="40.7" cy="0" rx="4.1" ry="8.5" transform="rotate(-24 40.7 0)" fill="#F8B0D8" stroke="#D884B8" stroke-width="1.63"/><ellipse cx="50.8" cy="0" rx="4.1" ry="8.5" transform="rotate(-24 50.8 0)" fill="#F8B0D8" stroke="#D884B8" stroke-width="1.63"/><ellipse cx="61.0" cy="0" rx="4.1" ry="8.5" transform="rotate(-24 61.0 0)" fill="#F8B0D8" stroke="#D884B8" stroke-width="1.63"/><ellipse cx="71.2" cy="0" rx="4.1" ry="8.5" transform="rotate(-24 71.2 0)" fill="#F8B0D8" stroke="#D884B8" stroke-width="1.63"/></g><g transform="translate(719.4 453.8) rotate(35.2)"><rect x="-1.2" y="-6.7" width="74.3" height="13.3" rx="5.2" fill="#5A3A9C"/><ellipse cx="0.0" cy="0" rx="4.8" ry="8.8" transform="rotate(-24 0.0 0)" fill="#C09CF8" stroke="#9470DC" stroke-width="1.92"/><ellipse cx="12.0" cy="0" rx="4.8" ry="8.8" transform="rotate(-24 12.0 0)" fill="#C09CF8" stroke="#9470DC" stroke-width="1.92"/><ellipse cx="24.0" cy="0" rx="4.8" ry="8.8" transform="rotate(-24 24.0 0)" fill="#C09CF8" stroke="#9470DC" stroke-width="1.92"/><ellipse cx="35.9" cy="0" rx="4.8" ry="8.8" transform="rotate(-24 35.9 0)" fill="#C09CF8" stroke="#9470DC" stroke-width="1.92"/><ellipse cx="47.9" cy="0" rx="4.8" ry="8.8" transform="rotate(-24 47.9 0)" fill="#C09CF8" stroke="#9470DC" stroke-width="1.92"/><ellipse cx="59.9" cy="0" rx="4.8" ry="8.8" transform="rotate(-24 59.9 0)" fill="#C09CF8" stroke="#9470DC" stroke-width="1.92"/><ellipse cx="71.9" cy="0" rx="4.8" ry="8.8" transform="rotate(-24 71.9 0)" fill="#C09CF8" stroke="#9470DC" stroke-width="1.92"/></g><path d="M712.2 451.4C712.8 451.9 714.5 453.9 715.7 454.3C717.0 454.7 718.8 453.9 719.4 453.8" fill="none" stroke="#B8F43A" stroke-width="2.2" stroke-linecap="round" stroke-linejoin="round" opacity="1"/><path d="M726.0 476.5C727.1 476.9 730.4 479.0 732.6 479.4C734.8 479.7 738.1 478.6 739.2 478.4" fill="none" stroke="#B8F43A" stroke-width="3.0" stroke-linecap="round" stroke-linejoin="round" opacity="1"/><path d="M759.0 472.5C760.3 473.6 765.6 478.0 766.9 479.1" fill="none" stroke="#B8F43A" stroke-width="1.8" stroke-linecap="round" stroke-linejoin="round" opacity="1"/><g transform="translate(705.2 481.1) rotate(96.3)"><rect x="-1.3" y="-7.8" width="41.1" height="15.6" rx="6.1" fill="#0E8A12"/><ellipse cx="0.0" cy="0" rx="5.1" ry="10.2" transform="rotate(-14 0.0 0)" fill="#34EC30" stroke="#1CC41C" stroke-width="2.05"/><ellipse cx="12.8" cy="0" rx="5.1" ry="10.2" transform="rotate(-14 12.8 0)" fill="#34EC30" stroke="#1CC41C" stroke-width="2.05"/><ellipse cx="25.7" cy="0" rx="5.1" ry="10.2" transform="rotate(-14 25.7 0)" fill="#34EC30" stroke="#1CC41C" stroke-width="2.05"/><ellipse cx="38.5" cy="0" rx="5.1" ry="10.2" transform="rotate(-14 38.5 0)" fill="#34EC30" stroke="#1CC41C" stroke-width="2.05"/></g><path d="M693.1 522.0C693.7 523.2 694.8 527.6 697.0 529.2C699.2 530.9 704.7 531.4 706.2 531.9" fill="none" stroke="#30D630" stroke-width="4.6" stroke-linecap="round" stroke-linejoin="round" opacity="1"/><path d="M706.2 531.9C708.4 531.5 714.2 531.4 719.4 529.5C724.7 527.6 732.2 522.7 737.9 520.3C743.6 517.8 748.9 516.5 753.7 515.0C758.6 513.4 763.4 512.8 766.9 511.0C770.5 509.2 773.8 505.3 775.1 504.2" fill="none" stroke="#3CDC3C" stroke-width="1.9" stroke-linecap="round" stroke-linejoin="round" opacity="1"/><path d="M710.2 458.0C713.1 457.6 721.2 454.9 727.4 455.6C733.5 456.3 740.6 460.7 747.2 462.2C753.7 463.7 761.0 463.5 766.9 464.8C772.9 466.2 780.1 469.2 782.8 470.1" fill="none" stroke="#44DCE4" stroke-width="1.2" stroke-linecap="round" stroke-linejoin="round" opacity="1"/><path d="M714.2 438.2C715.5 439.1 719.2 442.4 722.1 443.5C724.9 444.6 728.2 445.5 731.3 444.8C734.4 444.1 737.3 441.2 740.6 439.5C743.9 437.8 747.8 434.9 751.1 434.5C754.4 434.1 757.5 435.2 760.3 437.1C763.2 439.1 765.6 442.6 768.3 446.1C770.9 449.6 773.4 454.5 776.2 458.0C778.9 461.5 783.3 465.5 784.8 467.0" fill="none" stroke="url(#pgO)" stroke-width="6.8" stroke-linecap="butt" stroke-linejoin="round" opacity="1"/><path d="M780.8 462.6C782.6 463.4 790.4 466.0 791.4 467.5C792.3 469.0 788.6 470.9 786.7 471.4C784.9 471.9 781.2 470.7 780.1 470.5Z" fill="#FF4A14"/><path d="M789.4 469.2C791.4 469.8 797.5 472.2 801.2 472.5C805.0 472.8 809.3 472.5 811.8 471.2C814.4 469.9 815.8 465.7 816.6 464.6" fill="none" stroke="#FF6A24" stroke-width="2.3" stroke-linecap="round" stroke-linejoin="round" opacity="1"/></g>
<path d="M1151.0 429.5V473.0" stroke="#FBB02D" stroke-width="3.5" stroke-linecap="round"/><path d="M1161.5 438.1V461.0" stroke="#FBB02D" stroke-width="3.5" stroke-linecap="round"/><path d="M1197.0 435.4V459.0" stroke="#2BA9DD" stroke-width="3.5" stroke-linecap="round"/><path d="M1213.3 425.0V476.0" stroke="#2BA9DD" stroke-width="3.5" stroke-linecap="round"/><path d="M1230.0 424.4V478.0" stroke="#2BA9DD" stroke-width="3.5" stroke-linecap="round"/><path d="M1246.0 433.6V472.0" stroke="#2BA9DD" stroke-width="3.5" stroke-linecap="round"/><path d="M1285.5 436.3V470.0" stroke="#FBB02D" stroke-width="3.5" stroke-linecap="round"/><path d="M1302.2 425.2V480.0" stroke="#FBB02D" stroke-width="3.5" stroke-linecap="round"/><path d="M1318.2 424.0V476.0" stroke="#FBB02D" stroke-width="3.5" stroke-linecap="round"/><path d="M1334.9 433.1V459.0" stroke="#FBB02D" stroke-width="3.5" stroke-linecap="round"/><path d="M1368.9 442.2V460.0" stroke="#2BA9DD" stroke-width="3.5" stroke-linecap="round"/><path d="M1378.9 433.0V473.0" stroke="#2BA9DD" stroke-width="3.5" stroke-linecap="round"/><polygon points="1137.0,423.6 1138.8,424.3 1140.6,425.1 1142.4,425.9 1144.2,426.9 1145.9,428.0 1147.7,429.1 1149.4,430.4 1151.1,431.8 1152.9,433.3 1154.6,434.9 1156.3,436.6 1158.1,438.4 1159.8,440.2 1161.6,442.2 1163.3,444.2 1165.1,446.2 1166.8,448.3 1168.6,450.5 1170.3,452.7 1172.1,454.9 1173.9,457.1 1175.7,459.4 1177.5,461.6 1179.3,463.9 1181.1,466.1 1182.9,468.3 1184.8,470.4 1186.8,472.4 1188.7,474.4 1190.7,476.3 1192.7,478.2 1194.7,479.9 1196.7,481.6 1198.7,483.2 1200.7,484.7 1202.8,486.1 1204.9,487.4 1207.0,488.5 1209.2,489.5 1211.3,490.4 1213.5,491.1 1215.7,491.7 1218.0,492.2 1220.2,492.4 1222.5,492.5 1224.8,492.4 1227.0,492.2 1229.2,491.8 1231.5,491.2 1233.7,490.4 1235.8,489.6 1238.0,488.6 1240.1,487.4 1242.2,486.2 1244.2,484.8 1246.3,483.3 1248.3,481.7 1250.3,480.0 1252.3,478.3 1254.3,476.4 1256.3,474.5 1258.2,472.5 1260.2,470.5 1262.1,468.4 1264.0,466.3 1266.0,464.2 1267.9,462.1 1269.8,459.9 1271.7,457.8 1273.6,455.6 1275.5,453.5 1277.4,451.4 1279.2,449.4 1281.1,447.4 1282.9,445.5 1284.8,443.6 1286.6,441.8 1288.4,440.1 1290.2,438.5 1292.0,437.0 1293.8,435.6 1295.6,434.3 1297.3,433.1 1299.0,432.1 1300.7,431.1 1302.4,430.3 1304.0,429.7 1305.6,429.1 1307.2,428.7 1308.8,428.4 1310.3,428.2 1311.8,428.1 1313.4,428.1 1314.9,428.3 1316.5,428.6 1318.1,429.0 1319.7,429.5 1321.3,430.1 1323.0,430.9 1324.6,431.8 1326.3,432.8 1328.1,434.0 1329.8,435.2 1331.6,436.6 1333.4,438.1 1335.2,439.7 1337.0,441.4 1338.8,443.1 1340.7,445.0 1342.5,446.9 1344.4,448.9 1346.3,450.9 1348.1,453.0 1350.0,455.1 1352.1,457.1 1354.1,459.1 1356.1,461.2 1358.1,463.2 1360.1,465.3 1362.2,467.3 1364.2,469.2 1366.3,471.1 1368.3,473.0 1370.4,474.8 1372.4,476.5 1374.5,478.1 1376.6,479.7 1378.6,481.1 1380.7,482.4 1382.8,483.6 1384.9,484.7 1386.9,485.7 1389.0,486.5 1391.1,487.1 1393.1,487.6 1395.1,488.0 1397.2,488.2 1399.1,488.2 1401.1,488.0 1403.0,487.7 1403.0,487.7 1401.1,487.3 1399.3,487.0 1397.4,486.5 1395.7,485.9 1393.9,485.2 1392.1,484.4 1390.4,483.4 1388.7,482.4 1386.9,481.2 1385.2,479.9 1383.5,478.5 1381.8,477.0 1380.0,475.5 1378.3,473.8 1376.6,472.0 1374.8,470.1 1373.1,468.2 1371.3,466.2 1369.6,464.1 1367.8,462.0 1366.1,459.9 1364.3,457.7 1362.5,455.5 1360.7,453.2 1358.9,451.0 1357.2,448.7 1355.3,446.6 1353.3,444.4 1351.4,442.3 1349.5,440.3 1347.5,438.3 1345.6,436.3 1343.6,434.4 1341.6,432.6 1339.6,430.8 1337.6,429.1 1335.6,427.6 1333.5,426.1 1331.5,424.7 1329.4,423.5 1327.2,422.3 1325.1,421.3 1322.9,420.5 1320.7,419.8 1318.5,419.2 1316.3,418.8 1314.0,418.6 1311.8,418.5 1309.5,418.6 1307.2,418.9 1305.0,419.3 1302.8,419.9 1300.6,420.7 1298.4,421.6 1296.3,422.6 1294.2,423.8 1292.1,425.1 1290.0,426.5 1288.0,428.0 1286.0,429.6 1284.0,431.3 1282.0,433.0 1280.0,434.9 1278.0,436.8 1276.1,438.8 1274.1,440.8 1272.2,442.9 1270.2,445.0 1268.3,447.1 1266.4,449.3 1264.5,451.4 1262.6,453.6 1260.7,455.7 1258.8,457.8 1257.0,459.9 1255.1,461.9 1253.2,463.9 1251.4,465.8 1249.5,467.7 1247.7,469.5 1245.9,471.1 1244.1,472.7 1242.3,474.2 1240.5,475.6 1238.8,476.9 1237.0,478.1 1235.3,479.1 1233.6,480.0 1232.0,480.8 1230.3,481.4 1228.7,482.0 1227.2,482.4 1225.6,482.7 1224.0,482.8 1222.5,482.9 1221.0,482.8 1219.4,482.7 1217.9,482.4 1216.3,481.9 1214.7,481.4 1213.0,480.7 1211.4,480.0 1209.7,479.0 1208.0,478.0 1206.3,476.8 1204.5,475.6 1202.7,474.2 1200.9,472.7 1199.1,471.1 1197.3,469.4 1195.5,467.6 1193.6,465.7 1191.8,463.8 1189.9,461.8 1187.9,459.9 1185.9,457.9 1183.9,455.9 1181.9,453.9 1179.9,451.8 1177.9,449.8 1175.9,447.7 1173.8,445.7 1171.8,443.7 1169.7,441.8 1167.7,439.9 1165.6,438.1 1163.6,436.3 1161.5,434.6 1159.5,433.0 1157.4,431.5 1155.3,430.1 1153.3,428.8 1151.2,427.6 1149.1,426.6 1147.1,425.7 1145.0,424.9 1143.0,424.3 1141.0,423.9 1139.0,423.6 1137.0,423.6" fill="#FBB02D"/><polygon points="1128.0,487.2 1129.8,487.8 1131.8,488.3 1133.7,488.5 1135.7,488.6 1137.7,488.6 1139.7,488.3 1141.8,488.0 1143.8,487.4 1145.9,486.7 1148.0,485.9 1150.0,484.9 1152.1,483.8 1154.2,482.6 1156.3,481.3 1158.3,479.8 1160.4,478.3 1162.5,476.7 1164.5,474.9 1166.6,473.1 1168.6,471.3 1170.7,469.4 1172.7,467.4 1174.7,465.4 1176.7,463.4 1178.8,461.3 1180.8,459.3 1182.7,457.2 1184.6,455.1 1186.5,453.0 1188.3,450.9 1190.2,448.9 1192.0,446.9 1193.9,445.0 1195.7,443.2 1197.6,441.4 1199.4,439.7 1201.2,438.1 1202.9,436.7 1204.7,435.3 1206.5,434.0 1208.2,432.9 1209.9,431.9 1211.6,431.0 1213.2,430.2 1214.8,429.5 1216.4,429.0 1218.0,428.6 1219.6,428.3 1221.1,428.2 1222.6,428.1 1224.2,428.2 1225.7,428.3 1227.3,428.6 1228.8,429.1 1230.4,429.6 1232.1,430.3 1233.7,431.0 1235.4,432.0 1237.1,433.0 1238.8,434.1 1240.6,435.4 1242.3,436.8 1244.1,438.3 1245.9,439.9 1247.7,441.6 1249.6,443.3 1251.4,445.2 1253.2,447.1 1255.1,449.1 1257.0,451.1 1258.8,453.2 1260.7,455.3 1262.6,457.4 1264.5,459.6 1266.4,461.7 1268.3,463.8 1270.2,466.0 1272.1,468.1 1274.0,470.1 1276.0,472.1 1277.9,474.1 1279.9,476.0 1281.9,477.9 1283.8,479.7 1285.8,481.3 1287.9,482.9 1289.9,484.5 1292.0,485.9 1294.0,487.1 1296.1,488.3 1298.3,489.3 1300.4,490.3 1302.6,491.0 1304.8,491.6 1307.0,492.1 1309.3,492.4 1311.5,492.5 1313.8,492.5 1316.0,492.2 1318.3,491.9 1320.5,491.3 1322.7,490.6 1324.8,489.8 1327.0,488.8 1329.1,487.7 1331.2,486.5 1333.2,485.1 1335.3,483.7 1337.3,482.1 1339.3,480.5 1341.3,478.7 1343.3,476.9 1345.3,475.0 1347.2,473.0 1349.0,470.9 1350.8,468.8 1352.6,466.6 1354.4,464.4 1356.2,462.2 1358.0,459.9 1359.8,457.7 1361.6,455.4 1363.3,453.2 1365.1,451.0 1366.9,448.9 1368.6,446.7 1370.4,444.6 1372.1,442.6 1373.8,440.7 1375.6,438.8 1377.3,437.0 1379.0,435.2 1380.8,433.6 1382.5,432.0 1384.2,430.6 1386.0,429.2 1387.7,428.0 1389.5,426.8 1391.2,425.8 1393.0,424.7 1393.0,424.7 1391.0,425.1 1389.0,425.7 1386.9,426.5 1384.9,427.4 1382.8,428.5 1380.8,429.7 1378.7,431.0 1376.7,432.4 1374.6,433.9 1372.6,435.5 1370.5,437.2 1368.5,439.0 1366.4,440.9 1364.4,442.8 1362.4,444.7 1360.3,446.7 1358.3,448.7 1356.3,450.8 1354.3,452.8 1352.3,454.8 1350.3,456.8 1348.3,458.8 1346.3,460.8 1344.3,462.7 1342.4,464.6 1340.4,466.4 1338.5,468.2 1336.7,469.9 1334.9,471.6 1333.1,473.1 1331.3,474.6 1329.6,476.0 1327.8,477.2 1326.1,478.3 1324.4,479.3 1322.7,480.2 1321.1,480.9 1319.5,481.6 1317.9,482.1 1316.3,482.5 1314.8,482.7 1313.2,482.9 1311.7,482.9 1310.2,482.8 1308.6,482.6 1307.1,482.3 1305.5,481.9 1303.9,481.3 1302.2,480.6 1300.6,479.8 1298.9,478.9 1297.2,477.8 1295.5,476.6 1293.7,475.3 1291.9,473.9 1290.2,472.4 1288.4,470.8 1286.5,469.1 1284.7,467.3 1282.9,465.5 1281.0,463.5 1279.2,461.5 1277.3,459.5 1275.4,457.4 1273.6,455.3 1271.7,453.2 1269.8,451.1 1267.9,448.9 1266.0,446.8 1264.0,444.7 1262.1,442.6 1260.2,440.5 1258.3,438.5 1256.3,436.5 1254.3,434.6 1252.4,432.8 1250.4,431.0 1248.4,429.4 1246.4,427.8 1244.3,426.3 1242.3,424.9 1240.2,423.6 1238.1,422.5 1235.9,421.5 1233.8,420.6 1231.6,419.9 1229.4,419.3 1227.2,418.9 1224.9,418.6 1222.7,418.5 1220.4,418.6 1218.2,418.8 1215.9,419.2 1213.7,419.8 1211.5,420.5 1209.4,421.4 1207.2,422.4 1205.1,423.5 1203.0,424.8 1201.0,426.1 1198.9,427.6 1196.9,429.2 1194.9,430.9 1192.9,432.6 1190.9,434.4 1189.0,436.3 1187.0,438.3 1185.1,440.3 1183.2,442.4 1181.2,444.4 1179.3,446.6 1177.4,448.7 1175.5,450.8 1173.7,453.0 1171.9,455.2 1170.1,457.5 1168.4,459.6 1166.6,461.8 1164.8,463.9 1163.1,465.9 1161.4,467.9 1159.6,469.8 1157.9,471.7 1156.2,473.5 1154.4,475.1 1152.7,476.7 1151.0,478.2 1149.3,479.6 1147.6,480.8 1145.9,482.0 1144.2,483.1 1142.5,484.0 1140.7,484.8 1139.0,485.5 1137.2,486.1 1135.5,486.5 1133.7,486.9 1131.8,487.1 1129.9,487.2 1128.0,487.2" fill="#2BA9DD"/>
<path d="M1169.4 497.5V650" stroke="#fff" stroke-width="1.1"/><path d="M1165.7 648L1169.4 656.8L1173.1 648Z" fill="#fff"/>
<path d="M1202.4 571.1C1203.0 569.1 1204.4 566.1 1206.4 564.7C1208.4 563.3 1211.5 562.7 1214.3 562.6C1217.1 562.5 1220.1 563.1 1223.1 563.9C1226.2 564.6 1227.9 566.3 1232.7 567.1C1237.5 567.9 1244.7 567.6 1251.9 568.7C1259.1 569.7 1268.0 571.8 1275.8 573.5C1283.7 575.1 1292.1 577.3 1299.0 578.6C1305.9 579.9 1310.6 581.7 1317.4 581.1C1324.1 580.6 1333.3 576.6 1339.7 575.1C1346.1 573.5 1351.4 572.4 1355.7 571.9C1360.0 571.4 1363.7 569.8 1365.6 572.2C1367.5 574.6 1367.0 581.8 1367.2 586.2C1367.4 590.7 1367.4 595.0 1366.6 599.0C1365.7 603.0 1365.0 607.3 1362.1 610.2C1359.2 613.1 1354.4 614.4 1349.3 616.3C1344.2 618.2 1337.9 619.1 1331.7 621.7C1325.6 624.3 1319.2 628.6 1312.6 631.8C1305.9 634.9 1299.0 638.8 1291.8 640.6C1284.6 642.3 1276.9 642.7 1269.4 642.1C1262.0 641.6 1254.0 640.0 1247.1 637.4C1240.2 634.7 1232.7 630.4 1227.9 626.2C1223.2 621.9 1220.6 616.6 1218.7 611.8C1216.7 607.0 1218.1 601.7 1216.4 597.4C1214.8 593.2 1211.0 589.7 1208.7 586.2C1206.5 582.8 1203.7 579.2 1202.7 576.7C1201.6 574.1 1201.7 573.1 1202.4 571.1Z" fill="#8FB5F1"/><path d="M1204.3 570.3C1204.9 568.6 1206.8 566.2 1208.7 565.2C1210.7 564.1 1213.4 563.8 1215.9 563.9C1218.5 563.9 1221.1 564.7 1223.9 565.5C1226.7 566.3 1228.0 567.9 1232.7 568.7C1237.4 569.5 1244.7 569.2 1251.9 570.3C1259.1 571.3 1268.0 573.4 1275.8 575.1C1283.7 576.7 1292.1 579.0 1299.0 580.2C1305.9 581.4 1310.6 582.9 1317.4 582.4C1324.1 581.9 1333.6 578.4 1339.7 577.0C1345.8 575.5 1350.8 574.0 1354.1 573.8C1357.3 573.6 1358.2 573.3 1359.2 575.9C1360.2 578.5 1361.1 585.1 1360.2 589.4C1359.2 593.8 1357.8 598.8 1353.3 602.2C1348.8 605.6 1340.1 607.1 1333.3 609.9C1326.5 612.7 1319.5 616.0 1312.6 619.0C1305.6 622.0 1299.0 626.2 1291.8 627.8C1284.6 629.4 1276.9 629.3 1269.4 628.6C1262.0 627.8 1253.9 626.1 1247.1 623.3C1240.3 620.5 1233.2 616.4 1228.7 611.8C1224.2 607.2 1223.0 600.6 1220.2 595.8C1217.5 591.0 1214.8 586.5 1212.3 583.1C1209.7 579.6 1206.1 577.2 1204.8 575.1C1203.4 572.9 1203.6 571.9 1204.3 570.3Z" fill="#C9DCF8"/><path d="M1208.4 564.2C1209.1 565.4 1209.9 569.3 1212.7 571.1C1215.6 572.9 1222.7 573.2 1225.5 575.1C1228.4 576.9 1227.3 579.5 1229.8 582.3C1232.4 585.0 1236.2 588.8 1240.7 591.4C1245.2 593.9 1250.8 596.0 1256.7 597.4C1262.5 598.9 1270.0 600.0 1275.8 600.0C1281.7 600.0 1287.7 598.7 1291.8 597.4C1295.9 596.2 1298.4 594.5 1300.6 592.6C1302.8 590.8 1302.9 588.0 1304.9 586.2C1306.9 584.5 1309.8 583.2 1312.6 582.4C1315.3 581.6 1319.9 581.6 1321.4 581.5" fill="none" stroke="#1F3F90" stroke-width="1.1"/><path d="M1207.2 561.5C1206.3 557.8 1207.6 551.8 1210.0 546.6C1212.4 541.4 1215.9 535.5 1221.5 530.3C1227.2 525.2 1234.8 519.4 1243.9 516.0C1252.9 512.5 1265.2 510.5 1275.8 509.6C1286.5 508.7 1297.1 508.8 1307.8 510.4C1318.4 512.0 1330.4 515.0 1339.7 519.2C1349.0 523.3 1357.7 529.5 1363.7 535.1C1369.6 540.7 1373.4 547.9 1375.5 552.7C1377.6 557.5 1377.3 561.0 1376.5 563.9C1375.6 566.8 1372.8 569.1 1370.4 570.3C1368.0 571.5 1365.1 572.2 1362.1 571.2C1359.1 570.2 1356.2 566.4 1352.5 564.2C1348.8 562.0 1344.5 559.3 1339.7 557.8C1334.9 556.3 1329.1 555.0 1323.7 555.3C1318.4 555.5 1312.0 557.4 1307.8 559.1C1303.6 560.8 1300.7 563.3 1298.5 565.5C1296.3 567.7 1294.8 569.8 1294.4 572.2C1293.9 574.6 1295.2 577.5 1296.0 579.9C1296.8 582.2 1299.3 584.5 1299.2 586.2C1299.0 588.0 1297.3 590.0 1295.3 590.4C1293.3 590.8 1290.3 590.3 1287.0 588.8C1283.8 587.3 1279.8 584.0 1275.8 581.5C1271.8 579.0 1267.3 575.9 1263.1 573.8C1258.8 571.7 1254.5 569.5 1250.3 569.0C1246.0 568.5 1241.5 570.1 1237.5 570.6C1233.5 571.1 1230.0 572.5 1226.3 572.2C1222.6 571.9 1218.3 570.8 1215.1 569.0C1211.9 567.2 1208.0 565.2 1207.2 561.5Z" fill="#A2A8E2"/><path d="M1207.2 561.5C1206.3 557.8 1207.6 551.8 1210.0 546.6C1212.4 541.4 1215.9 535.5 1221.5 530.3C1227.2 525.2 1234.8 519.4 1243.9 516.0C1252.9 512.5 1265.2 510.5 1275.8 509.6C1286.5 508.7 1297.4 508.8 1307.8 510.4C1318.2 511.9 1329.9 515.3 1338.1 518.8C1346.4 522.4 1352.6 527.8 1357.3 531.9C1362.0 536.1 1365.2 540.6 1366.2 543.9C1367.3 547.3 1365.7 550.0 1363.7 551.9C1361.7 553.8 1358.1 555.2 1354.1 555.1C1350.1 555.0 1344.8 552.5 1339.7 551.4C1334.7 550.4 1329.1 548.7 1323.7 548.7C1318.4 548.7 1312.5 549.7 1307.8 551.4C1303.0 553.2 1298.5 556.2 1295.3 559.1C1292.2 562.0 1290.5 565.5 1288.9 568.7C1287.3 571.9 1285.8 575.5 1285.7 578.3C1285.7 581.1 1288.9 584.0 1288.6 585.4C1288.3 586.9 1285.9 587.8 1283.8 587.0C1281.7 586.3 1279.3 583.4 1275.8 581.1C1272.4 578.9 1267.3 575.5 1263.1 573.5C1258.8 571.4 1254.5 569.2 1250.3 568.7C1246.0 568.1 1241.5 569.7 1237.5 570.3C1233.5 570.8 1230.0 572.1 1226.3 571.9C1222.6 571.6 1218.3 570.4 1215.1 568.7C1211.9 566.9 1208.0 565.2 1207.2 561.5Z" fill="#8E7BB6"/><path d="M1217.1 548.7C1218.3 548.8 1218.7 553.9 1221.8 554.6C1225.0 555.3 1230.9 553.6 1235.9 553.0C1240.9 552.5 1246.3 551.2 1251.9 551.4C1257.5 551.7 1264.4 552.8 1269.4 554.6C1274.5 556.5 1279.0 560.3 1282.2 562.6C1285.5 565.0 1288.3 566.1 1288.9 568.7C1289.5 571.3 1285.8 575.5 1285.7 578.3C1285.7 581.1 1288.9 584.0 1288.6 585.4C1288.3 586.9 1285.9 587.8 1283.8 587.0C1281.7 586.3 1279.3 583.4 1275.8 581.1C1272.4 578.9 1267.3 575.5 1263.1 573.5C1258.8 571.4 1254.5 569.2 1250.3 568.7C1246.0 568.1 1241.5 569.7 1237.5 570.3C1233.5 570.8 1229.8 572.1 1226.3 571.9C1222.9 571.7 1219.4 570.3 1216.7 569.0C1214.1 567.7 1210.7 566.3 1210.3 563.9C1209.9 561.4 1213.2 556.8 1214.3 554.3C1215.5 551.8 1215.8 548.7 1217.1 548.7Z" fill="#9A8AC6" fill-opacity=".55"/><path d="M1208.4 564.2C1208.8 562.9 1212.1 562.5 1214.3 562.6C1216.6 562.7 1219.8 563.3 1221.8 564.7C1223.9 566.1 1226.0 569.4 1226.6 571.1C1227.3 572.8 1226.9 574.3 1225.5 574.7C1224.1 575.2 1220.6 574.5 1218.3 573.8C1216.1 573.0 1213.6 571.9 1211.9 570.3C1210.3 568.7 1208.0 565.5 1208.4 564.2Z" fill="#BCD2F6" fill-opacity=".8"/><path d="M1180.0 540.2C1181.1 539.3 1184.0 534.9 1186.4 534.5C1188.8 534.1 1192.0 535.8 1194.4 537.7C1196.8 539.6 1198.4 544.8 1200.8 545.7C1203.2 546.6 1206.5 543.4 1208.7 543.1C1211.0 542.9 1213.0 543.2 1214.3 544.1C1215.7 545.0 1215.8 547.0 1217.1 548.7C1218.3 550.5 1218.7 553.9 1221.8 554.6C1225.0 555.3 1230.9 553.6 1235.9 553.0C1240.9 552.5 1246.3 551.2 1251.9 551.4C1257.5 551.7 1264.4 552.8 1269.4 554.6C1274.5 556.5 1278.5 559.9 1282.2 562.6C1285.9 565.3 1288.6 568.2 1291.8 570.6C1295.0 573.0 1297.9 575.4 1301.4 577.0C1304.8 578.6 1309.3 579.4 1312.6 580.2C1315.8 580.9 1318.5 582.8 1320.9 581.5C1323.3 580.1 1324.9 574.3 1326.9 572.2C1329.0 570.1 1331.2 568.3 1333.3 568.7C1335.5 569.1 1337.3 574.0 1339.7 574.4C1342.1 574.9 1345.0 571.6 1347.7 571.2C1350.4 570.9 1353.0 571.7 1355.7 572.2C1358.4 572.7 1361.0 574.6 1363.7 574.4C1366.3 574.3 1369.3 571.4 1371.7 571.2C1374.1 571.1 1376.2 572.0 1378.1 573.5C1379.9 574.9 1381.0 578.5 1382.8 579.9C1384.7 581.2 1387.4 581.5 1389.2 581.5C1391.1 581.5 1392.5 578.5 1394.0 579.9C1395.5 581.2 1397.5 587.8 1398.2 589.4" fill="none" stroke="#3A78C0" stroke-width="1"/><path d="M1184.5 532.7C1185.3 533.2 1187.8 533.9 1189.6 535.5C1191.4 537.0 1193.0 541.1 1195.2 541.8C1197.3 542.6 1200.2 539.9 1202.4 539.9C1204.5 539.9 1206.2 541.4 1208.0 541.8C1209.7 542.3 1211.9 542.6 1212.7 542.8" fill="none" stroke="#2A4FA0" stroke-width="1.1"/><path d="M1322.1 579.9C1322.5 578.8 1323.2 575.6 1324.5 573.8C1325.9 572.0 1328.3 569.0 1330.1 569.0C1332.0 569.0 1333.6 573.3 1335.7 573.8C1337.9 574.3 1340.7 572.8 1342.9 572.2C1345.2 571.6 1347.2 570.0 1349.3 570.3C1351.4 570.5 1353.6 573.5 1355.7 573.8C1357.8 574.1 1359.9 572.8 1362.1 572.2C1364.2 571.6 1366.5 569.8 1368.5 570.3C1370.5 570.8 1372.1 573.7 1374.1 575.1C1376.1 576.4 1378.2 577.6 1380.4 578.3C1382.7 579.0 1385.5 578.6 1387.6 579.2C1389.8 579.9 1391.8 580.8 1393.2 582.3C1394.6 583.7 1395.5 587.2 1395.9 588.2" fill="none" stroke="#2A4FA0" stroke-width="1.1"/>
<path d="M1130.4 674.4C1131.7 675.3 1134.3 677.4 1137.8 679.6C1141.2 681.7 1146.5 684.6 1151.1 687.1C1155.7 689.6 1160.4 692.3 1165.6 694.4C1170.7 696.6 1176.6 698.7 1182.2 700.0C1187.9 701.3 1193.8 702.1 1199.6 702.4C1205.3 702.7 1211.0 702.4 1216.7 701.8C1222.3 701.2 1228.0 700.2 1233.3 698.9C1238.7 697.6 1243.8 695.7 1248.9 694.0C1254.0 692.3 1259.0 690.4 1264.0 688.4C1269.0 686.5 1274.1 684.2 1278.9 682.2C1283.7 680.3 1287.9 678.3 1292.7 676.7C1297.4 675.0 1302.4 673.6 1307.3 672.4C1312.3 671.3 1317.3 670.4 1322.2 669.8C1327.1 669.2 1331.9 668.9 1336.7 668.9C1341.5 668.9 1346.3 669.3 1351.1 670.0C1355.9 670.7 1360.9 672.0 1365.6 673.3C1370.2 674.7 1374.5 676.2 1378.9 678.2C1383.3 680.3 1388.8 683.5 1391.8 685.6C1394.7 687.6 1395.9 689.8 1396.7 690.7" fill="none" stroke="#7B8DF2" stroke-width="2.3" stroke-linecap="round"/><path d="M1137.8 679.1L1147.8 664.0M1151.1 687.1L1160.7 671.8M1165.6 694.4L1173.8 678.2M1182.2 700.0L1187.3 682.2M1199.6 702.4L1200.0 684.0M1216.7 701.8L1214.4 683.3M1233.3 698.9L1228.9 681.1M1248.9 694.0L1242.7 677.1M1264.0 688.4L1257.1 672.7M1278.9 682.2L1271.8 667.3M1292.7 676.7L1286.7 661.6M1307.3 672.4L1302.2 656.7M1322.2 669.8L1318.9 652.9M1336.7 668.9L1336.0 651.6M1351.1 670.0L1352.9 652.2M1365.6 673.3L1370.0 656.0M1378.9 678.2L1386.2 662.2M1391.8 685.6L1401.1 671.6" fill="none" stroke="#7B8DF2" stroke-width="1.7" stroke-linecap="round"/>
<polygon points="40.8,948.3 63.5,933.9 87.1,947.6 87.1,975.4 63.5,990.1 40.8,975.4" fill="#29A7F1"/><polygon points="86.1,947.6 112.0,938.7 126.7,961.1 112.0,984.4 86.1,975.4" fill="#2CABF3"/><polygon points="85.5,947.6 88.4,947.6 87.1,975.4 85.5,975.4" fill="#1E92DA" fill-opacity=".55"/><path d="M112.0 983.7V1000.4" stroke="#E6C9E6" stroke-width="1"/><polygon points="110.7,1000.4 125.4,994.9 140.1,999.7 135.7,1008.7 115.8,1008.7" fill="#4EE9A9"/><path d="M139.8 999.7V988.2H143.3" fill="none" stroke="#E6C9E6" stroke-width="1"/><path d="M153.5 988.2H201.5" stroke="#8FD7F8" stroke-width="1"/><circle cx="153.5" cy="988.2" r="11.1" fill="#2AACF2"/><text x="153.5" y="992.5" font-size="12.5" text-anchor="middle" fill="#0A1020">P</text><circle cx="177.2" cy="988.2" r="11.1" fill="#2AACF2"/><text x="177.2" y="992.5" font-size="12.5" text-anchor="middle" fill="#0A1020">P</text><circle cx="201.5" cy="988.2" r="11.1" fill="#2AACF2"/><text x="201.5" y="992.5" font-size="12.5" text-anchor="middle" fill="#0A1020">P</text><polygon points="204.0,922.1 186.8,960.4 196.7,956.9 188.7,981.2 206.3,944.1 196.7,948.0" fill="#FFD60A" stroke="#F0A000" stroke-width=".8" stroke-linejoin="round"/>
<circle cx="564.2" cy="966.9" r="56.7" fill="none" stroke="#0B2B6C" stroke-width="17.6"/><circle cx="564.2" cy="966.9" r="56.7" fill="none" stroke="#31E6E6" stroke-width="17.6" stroke-dasharray="249.38 356.26" transform="rotate(-90 564.2 966.9)"/>
<path d="M1105.4 939.8H1116.6V936.2L1125 943.3L1116.6 950.4V946.8H1105.4Z" fill="#BCC8B8"/>
</svg>
<div class="t" style="font-size:30px;line-height:39px;top:19.60px;letter-spacing:0.290px;left:38.50px;font-weight:bold;"><span>Nucleoside</span></div>
<div class="t" style="font-size:30px;line-height:39px;top:55.95px;letter-spacing:0.290px;left:38.50px;font-weight:bold;"><span>triphosphates</span></div>
<div class="t" style="font-size:30px;line-height:39px;top:92.31px;letter-spacing:0.290px;left:38.50px;font-weight:bold;"><span>(NTPs) are essential</span></div>
<div class="t" style="font-size:30px;line-height:39px;top:128.66px;letter-spacing:0.290px;left:38.50px;font-weight:bold;"><span>molecules that are</span></div>
<div class="t" style="font-size:30px;line-height:39px;top:165.00px;letter-spacing:0.290px;left:38.50px;font-weight:bold;"><span>used in the synthesis</span></div>
<div class="t" style="font-size:30px;line-height:39px;top:201.35px;letter-spacing:0.290px;left:38.50px;font-weight:bold;"><span>of messenger RNAs</span></div>
<div class="t" style="font-size:30px;line-height:39px;top:237.71px;letter-spacing:0.290px;left:38.50px;font-weight:bold;"><span>(mRNAs)</span></div>
<div class="t" style="font-size:30px;line-height:39px;top:19.90px;letter-spacing:0.290px;left:899.20px;font-weight:bold;"><span>However, current enzymatic</span></div>
<div class="t" style="font-size:30px;line-height:39px;top:56.30px;letter-spacing:0.290px;left:899.20px;font-weight:bold;"><span>methods for NTP synthesis have</span></div>
<div class="t" style="font-size:30px;line-height:39px;top:92.70px;letter-spacing:0.290px;left:899.20px;font-weight:bold;"><span>several limitations:</span></div>
<div class="t" style="font-size:30px;line-height:39px;top:129.10px;letter-spacing:0.290px;left:945.80px;font-weight:bold;"><span>Complex</span></div>
<div class="t" style="font-size:30px;line-height:39px;top:165.50px;letter-spacing:0.290px;left:945.80px;font-weight:bold;"><span>Expensive and energy-intensive</span></div>
<div class="t" style="font-size:30px;line-height:39px;top:201.91px;letter-spacing:0.290px;left:945.80px;font-weight:bold;"><span>Dependent on multiple enzymes</span></div>
<div class="t" style="font-size:30px;line-height:39px;top:238.30px;letter-spacing:0.290px;left:945.80px;font-weight:bold;"><span>and costly energy sources</span></div>
<div class="t" style="font-size:26px;line-height:34px;top:315.59px;letter-spacing:0.371px;left:46.40px;font-weight:bold;"><span>Discovery of a universal polyphosphate kinase (MAN) for efficient NTP synthesis and <i>in vitro</i> transcription</span></div>
<div class="t" style="font-size:22px;line-height:29px;top:371.68px;left:-870.30px;width:2000px;text-align:center;"><span>NMP</span></div>
<div class="t" style="font-size:22px;line-height:29px;top:371.68px;left:-685.00px;width:2000px;text-align:center;"><span>NDP</span></div>
<div class="t" style="font-size:22px;line-height:29px;top:371.68px;left:-72.20px;width:2000px;text-align:center;"><span>NTPs</span></div>
<div class="t" style="font-size:22px;line-height:29px;top:443.88px;left:1027.00px;"><span>ATP</span></div>
<div class="t" style="font-size:22px;line-height:29px;top:529.18px;left:1027.00px;"><span>UTP</span></div>
<div class="t" style="font-size:22px;line-height:29px;top:613.48px;left:1027.00px;"><span>GTP</span></div>
<div class="t" style="font-size:22px;line-height:29px;top:698.28px;left:1027.00px;"><span>CTP</span></div>
<div class="t" style="font-size:22px;line-height:29px;top:639.08px;left:-440.60px;width:2000px;text-align:center;"><span>PolyP</span></div>
<div class="t" style="font-size:22px;line-height:29px;top:588.58px;left:-264.30px;width:2000px;text-align:center;"><span>MAN PPK2</span></div>
<div class="t" style="font-size:24px;line-height:31px;top:713.88px;left:263.80px;width:2000px;text-align:center;"><span>mRNA synthesis</span></div>
<div class="t" style="font-size:21.2px;line-height:28px;top:780.95px;letter-spacing:0.584px;left:-277.51px;width:2000px;text-align:center;"><span>Polyphosphate kinase 2 (PPK2) from <i>Mangrovibacterium-marinum</i> (MAN) converts common nucleotides (NMPs and NDPs)</span></div>
<div class="t" style="font-size:21.2px;line-height:28px;top:807.95px;letter-spacing:0.548px;left:-277.53px;width:2000px;text-align:center;"><span>into NTPs with high efficiency, using polyphosphate (PolyP)</span></div>
<div class="t" style="font-size:12.4px;line-height:16px;top:852.70px;letter-spacing:-0.091px;left:-278.05px;width:2000px;text-align:center;"><span>NMP: nucleoside monophosphate; NDP: nucleoside diphosphate; ATP: adenosine triphosphate; UTP: uridine triphosphate; GTP: guanosine triphosphate; CTP: cytidine triphosphate</span></div>
<div class="t" style="font-size:24.6px;line-height:32px;top:902.98px;letter-spacing:1.060px;left:233.80px;font-weight:bold;"><span>Single enzyme</span></div>
<div class="t" style="font-size:24.6px;line-height:32px;top:902.98px;letter-spacing:0.920px;left:646.40px;font-weight:bold;"><span>High-efficiency</span></div>
<div class="t" style="font-size:24.6px;line-height:32px;top:902.98px;letter-spacing:1.060px;left:1161.20px;font-weight:bold;"><span>Enzyme-generated</span></div>
<div class="t" style="font-size:24.6px;line-height:32px;top:934.88px;letter-spacing:0.966px;left:233.80px;font-weight:bold;"><span>converts all eight</span></div>
<div class="t" style="font-size:24.6px;line-height:32px;top:934.88px;letter-spacing:1.030px;left:646.40px;font-weight:bold;"><span>(~70% conversion),</span></div>
<div class="t" style="font-size:24.6px;line-height:32px;top:934.88px;letter-spacing:1.060px;left:1161.20px;font-weight:bold;"><span>NTPs enable</span></div>
<div class="t" style="font-size:24.6px;line-height:32px;top:966.48px;letter-spacing:1.060px;left:233.80px;font-weight:bold;"><span>nucleotides into</span></div>
<div class="t" style="font-size:24.6px;line-height:32px;top:966.48px;letter-spacing:0.980px;left:646.40px;font-weight:bold;"><span>cost-effective NTP</span></div>
<div class="t" style="font-size:24.6px;line-height:32px;top:966.48px;letter-spacing:1.060px;left:1161.20px;font-weight:bold;"><span>one-pot mRNA</span></div>
<div class="t" style="font-size:24.6px;line-height:32px;top:997.98px;letter-spacing:1.060px;left:233.80px;font-weight:bold;"><span>active NTPs</span></div>
<div class="t" style="font-size:24.6px;line-height:32px;top:997.98px;letter-spacing:1.060px;left:646.40px;font-weight:bold;"><span>synthesis</span></div>
<div class="t" style="font-size:24.6px;line-height:32px;top:997.98px;letter-spacing:1.060px;left:1161.20px;font-weight:bold;"><span>synthesis</span></div>
<div class="t" style="font-size:28px;line-height:36px;top:949.90px;left:-438.70px;width:2000px;text-align:center;font-weight:bold;"><span>70%</span></div>
<div class="t" style="font-size:35px;line-height:46px;top:1058.17px;letter-spacing:0.848px;left:-276.38px;width:2000px;text-align:center;color:#F4EFE6;font-weight:bold;text-shadow:0 1px 2px rgba(120,60,0,.45);"><span>MAN PPK2 acts a as universal enzyme and enables low-cost</span></div>
<div class="t" style="font-size:35px;line-height:46px;top:1106.57px;letter-spacing:0.782px;left:-276.41px;width:2000px;text-align:center;font-weight:bold;text-shadow:0 1px 2px rgba(120,60,0,.45);"><span>production of mRNA precursors for efficient <i>in vitro</i> transcription</span></div>
<div class="t" style="font-size:16px;line-height:21px;top:134.56px;left:407.20px;"><span>DNA</span></div>
<div class="t" style="font-size:16px;line-height:21px;top:226.76px;left:516.20px;"><span>mRNA</span></div>
<div class="t" style="font-size:13px;line-height:17px;top:229.80px;left:441.00px;"><span>5’</span></div>
<div class="t" style="font-size:13px;line-height:17px;top:98.60px;left:654.30px;"><span>3’</span></div>
<div class="t" style="font-size:8.5px;line-height:11px;top:976.85px;left:947.40px;"><span>DNA</span></div>
<div class="t" style="font-size:8.5px;line-height:11px;top:1026.35px;left:990.50px;"><span>mRNA</span></div>
</body></html>
